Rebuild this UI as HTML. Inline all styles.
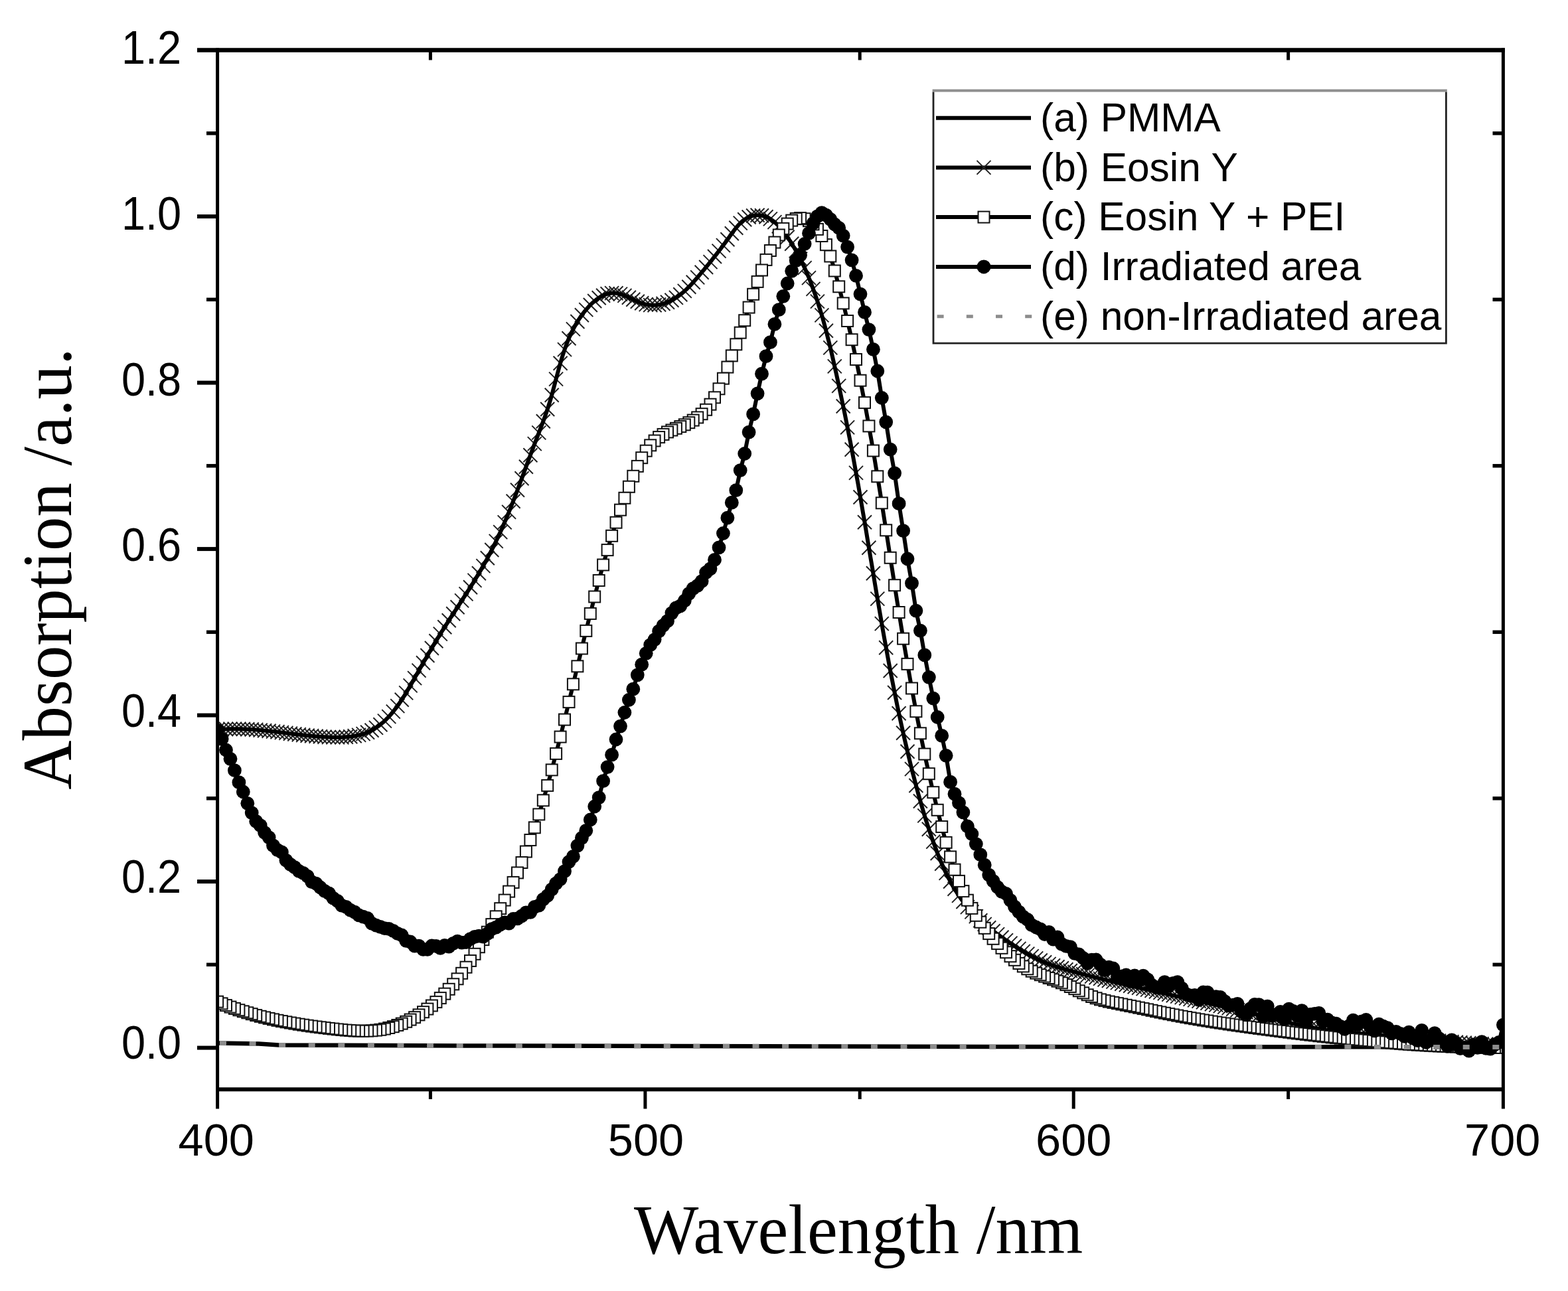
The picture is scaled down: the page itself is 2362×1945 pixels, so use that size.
<!DOCTYPE html>
<html><head><meta charset="utf-8"><title>Absorption spectra</title><style>html,body{margin:0;padding:0;background:#fff}svg{display:block}</style></head><body>
<svg width="2362" height="1945" viewBox="0 0 2362 1945">
<rect width="100%" height="100%" fill="#fff"/>
<defs><clipPath id="pc"><rect x="327.6" y="75.6" width="1936.8" height="1565.6"/></clipPath>
<path id="mx" d="M-10.5,-10.5L10.5,10.5M-10.5,10.5L10.5,-10.5" stroke="#222" stroke-width="2" fill="none"/>
<rect id="ms" x="-8.5" y="-8.5" width="17" height="17" fill="#fff" stroke="#111" stroke-width="2"/>
<circle id="mc" r="10.4" fill="#000"/>
</defs>
<g clip-path="url(#pc)" fill="none">
<polyline points="327.6,1571.5 390,1572.5 420,1574.5 700,1575.5 1500,1577 2264.4,1577.5" stroke="#000" stroke-width="6.5"/>
<g><use href="#mx" x="327.6" y="1099.3"/><use href="#mx" x="334.1" y="1098.8"/><use href="#mx" x="340.5" y="1098.5"/><use href="#mx" x="347" y="1098.2"/><use href="#mx" x="353.4" y="1098.2"/><use href="#mx" x="359.9" y="1098.2"/><use href="#mx" x="366.3" y="1098.4"/><use href="#mx" x="372.8" y="1098.7"/><use href="#mx" x="379.2" y="1099"/><use href="#mx" x="385.7" y="1099.5"/><use href="#mx" x="392.2" y="1100.1"/><use href="#mx" x="398.6" y="1100.7"/><use href="#mx" x="405.1" y="1101.3"/><use href="#mx" x="411.5" y="1102.1"/><use href="#mx" x="418" y="1102.8"/><use href="#mx" x="424.4" y="1103.6"/><use href="#mx" x="430.9" y="1104.4"/><use href="#mx" x="437.4" y="1105.2"/><use href="#mx" x="443.8" y="1106"/><use href="#mx" x="450.3" y="1106.7"/><use href="#mx" x="456.7" y="1107.5"/><use href="#mx" x="463.2" y="1108.2"/><use href="#mx" x="469.6" y="1108.8"/><use href="#mx" x="476.1" y="1109.3"/><use href="#mx" x="482.5" y="1109.8"/><use href="#mx" x="489" y="1110.2"/><use href="#mx" x="495.5" y="1110.6"/><use href="#mx" x="501.9" y="1110.8"/><use href="#mx" x="508.4" y="1110.8"/><use href="#mx" x="514.8" y="1110.7"/><use href="#mx" x="521.3" y="1110.3"/><use href="#mx" x="527.7" y="1109.7"/><use href="#mx" x="534.2" y="1108.7"/><use href="#mx" x="540.6" y="1107.4"/><use href="#mx" x="547.1" y="1105.6"/><use href="#mx" x="553.6" y="1103.3"/><use href="#mx" x="560" y="1100.2"/><use href="#mx" x="566.5" y="1096.4"/><use href="#mx" x="572.9" y="1091.7"/><use href="#mx" x="579.4" y="1086.1"/><use href="#mx" x="585.8" y="1079.6"/><use href="#mx" x="592.3" y="1072.1"/><use href="#mx" x="598.8" y="1063.6"/><use href="#mx" x="605.2" y="1054.2"/><use href="#mx" x="611.7" y="1043.9"/><use href="#mx" x="618.1" y="1032.9"/><use href="#mx" x="624.6" y="1021.6"/><use href="#mx" x="631" y="1010.1"/><use href="#mx" x="637.5" y="998.7"/><use href="#mx" x="643.9" y="987.5"/><use href="#mx" x="650.4" y="976.5"/><use href="#mx" x="656.9" y="965.7"/><use href="#mx" x="663.3" y="955.1"/><use href="#mx" x="669.8" y="944.8"/><use href="#mx" x="676.2" y="934.7"/><use href="#mx" x="682.7" y="924.7"/><use href="#mx" x="689.1" y="914.8"/><use href="#mx" x="695.6" y="904.9"/><use href="#mx" x="702" y="894.9"/><use href="#mx" x="708.5" y="884.8"/><use href="#mx" x="715" y="874.4"/><use href="#mx" x="721.4" y="863.7"/><use href="#mx" x="727.9" y="852.6"/><use href="#mx" x="734.3" y="840.8"/><use href="#mx" x="740.8" y="828.5"/><use href="#mx" x="747.2" y="815.4"/><use href="#mx" x="753.7" y="801.6"/><use href="#mx" x="760.2" y="786.9"/><use href="#mx" x="766.6" y="771.4"/><use href="#mx" x="773.1" y="755.2"/><use href="#mx" x="779.5" y="738.2"/><use href="#mx" x="786" y="720.8"/><use href="#mx" x="792.4" y="703.2"/><use href="#mx" x="798.9" y="685.7"/><use href="#mx" x="805.3" y="668.6"/><use href="#mx" x="811.8" y="651.9"/><use href="#mx" x="818.3" y="634.8"/><use href="#mx" x="824.7" y="616.5"/><use href="#mx" x="831.2" y="595.2"/><use href="#mx" x="837.6" y="571.1"/><use href="#mx" x="844.1" y="547.2"/><use href="#mx" x="850.5" y="526.6"/><use href="#mx" x="857" y="509.7"/><use href="#mx" x="863.4" y="495.9"/><use href="#mx" x="869.9" y="484.5"/><use href="#mx" x="876.4" y="474.8"/><use href="#mx" x="882.8" y="466.6"/><use href="#mx" x="889.3" y="459.5"/><use href="#mx" x="895.7" y="453.5"/><use href="#mx" x="902.2" y="448.8"/><use href="#mx" x="908.6" y="445.2"/><use href="#mx" x="915.1" y="442.8"/><use href="#mx" x="921.6" y="441.6"/><use href="#mx" x="928" y="441.7"/><use href="#mx" x="934.5" y="443.1"/><use href="#mx" x="940.9" y="445.4"/><use href="#mx" x="947.4" y="448.2"/><use href="#mx" x="953.8" y="451.2"/><use href="#mx" x="960.3" y="454.2"/><use href="#mx" x="966.7" y="456.7"/><use href="#mx" x="973.2" y="458.6"/><use href="#mx" x="979.7" y="459.6"/><use href="#mx" x="986.1" y="459.7"/><use href="#mx" x="992.6" y="459"/><use href="#mx" x="999" y="457.5"/><use href="#mx" x="1005.5" y="455.3"/><use href="#mx" x="1011.9" y="452.3"/><use href="#mx" x="1018.4" y="448.4"/><use href="#mx" x="1024.8" y="443.8"/><use href="#mx" x="1031.3" y="438.4"/><use href="#mx" x="1037.8" y="432.2"/><use href="#mx" x="1044.2" y="425.3"/><use href="#mx" x="1050.7" y="417.9"/><use href="#mx" x="1057.1" y="410.3"/><use href="#mx" x="1063.6" y="402.5"/><use href="#mx" x="1070" y="394.6"/><use href="#mx" x="1076.5" y="386.5"/><use href="#mx" x="1083" y="378.1"/><use href="#mx" x="1089.4" y="369.6"/><use href="#mx" x="1095.9" y="360.8"/><use href="#mx" x="1102.3" y="351.8"/><use href="#mx" x="1108.8" y="343.3"/><use href="#mx" x="1115.2" y="336.1"/><use href="#mx" x="1121.7" y="330.7"/><use href="#mx" x="1128.1" y="327"/><use href="#mx" x="1134.6" y="325"/><use href="#mx" x="1141.1" y="324.3"/><use href="#mx" x="1147.5" y="324.8"/><use href="#mx" x="1154" y="326.7"/><use href="#mx" x="1160.4" y="329.9"/><use href="#mx" x="1166.9" y="334.6"/><use href="#mx" x="1173.3" y="340.8"/><use href="#mx" x="1179.8" y="348.4"/><use href="#mx" x="1186.2" y="357.3"/><use href="#mx" x="1192.7" y="367.2"/><use href="#mx" x="1199.2" y="378"/><use href="#mx" x="1205.6" y="390.1"/><use href="#mx" x="1212.1" y="403.6"/><use href="#mx" x="1218.5" y="418.6"/><use href="#mx" x="1225" y="435.4"/><use href="#mx" x="1231.4" y="454.1"/><use href="#mx" x="1237.9" y="474.9"/><use href="#mx" x="1244.4" y="498.2"/><use href="#mx" x="1250.8" y="523.9"/><use href="#mx" x="1257.3" y="551.9"/><use href="#mx" x="1263.7" y="581.4"/><use href="#mx" x="1270.2" y="612"/><use href="#mx" x="1276.6" y="643.9"/><use href="#mx" x="1283.1" y="677.3"/><use href="#mx" x="1289.5" y="712.4"/><use href="#mx" x="1296" y="749"/><use href="#mx" x="1302.5" y="786.7"/><use href="#mx" x="1308.9" y="825.2"/><use href="#mx" x="1315.4" y="863.8"/><use href="#mx" x="1321.8" y="902.1"/><use href="#mx" x="1328.3" y="939.6"/><use href="#mx" x="1334.7" y="975.8"/><use href="#mx" x="1341.2" y="1010.5"/><use href="#mx" x="1347.6" y="1043.5"/><use href="#mx" x="1354.1" y="1074.8"/><use href="#mx" x="1360.6" y="1104.3"/><use href="#mx" x="1367" y="1132.2"/><use href="#mx" x="1373.5" y="1158.6"/><use href="#mx" x="1379.9" y="1183.5"/><use href="#mx" x="1386.4" y="1207"/><use href="#mx" x="1392.8" y="1228.9"/><use href="#mx" x="1399.3" y="1249.3"/><use href="#mx" x="1405.8" y="1268.1"/><use href="#mx" x="1412.2" y="1285.5"/><use href="#mx" x="1418.7" y="1301.2"/><use href="#mx" x="1425.1" y="1315.4"/><use href="#mx" x="1431.6" y="1328"/><use href="#mx" x="1438" y="1339.3"/><use href="#mx" x="1444.5" y="1349.4"/><use href="#mx" x="1450.9" y="1358.5"/><use href="#mx" x="1457.4" y="1366.6"/><use href="#mx" x="1463.9" y="1373.9"/><use href="#mx" x="1470.3" y="1380.6"/><use href="#mx" x="1476.8" y="1386.7"/><use href="#mx" x="1483.2" y="1392.4"/><use href="#mx" x="1489.7" y="1397.7"/><use href="#mx" x="1496.1" y="1402.8"/><use href="#mx" x="1502.6" y="1407.6"/><use href="#mx" x="1509" y="1412.2"/><use href="#mx" x="1515.5" y="1416.7"/><use href="#mx" x="1522" y="1421.1"/><use href="#mx" x="1528.4" y="1425.3"/><use href="#mx" x="1534.9" y="1429.4"/><use href="#mx" x="1541.3" y="1433.4"/><use href="#mx" x="1547.8" y="1437.1"/><use href="#mx" x="1554.2" y="1440.6"/><use href="#mx" x="1560.7" y="1443.9"/><use href="#mx" x="1567.2" y="1447"/><use href="#mx" x="1573.6" y="1449.8"/><use href="#mx" x="1580.1" y="1452.4"/><use href="#mx" x="1586.5" y="1454.7"/><use href="#mx" x="1593" y="1456.8"/><use href="#mx" x="1599.4" y="1458.8"/><use href="#mx" x="1605.9" y="1460.7"/><use href="#mx" x="1612.3" y="1462.5"/><use href="#mx" x="1618.8" y="1464.3"/><use href="#mx" x="1625.3" y="1466"/><use href="#mx" x="1631.7" y="1467.7"/><use href="#mx" x="1638.2" y="1469.4"/><use href="#mx" x="1644.6" y="1471.1"/><use href="#mx" x="1651.1" y="1472.7"/><use href="#mx" x="1657.5" y="1474.4"/><use href="#mx" x="1664" y="1476"/><use href="#mx" x="1670.4" y="1477.5"/><use href="#mx" x="1676.9" y="1479.1"/><use href="#mx" x="1683.4" y="1480.6"/><use href="#mx" x="1689.8" y="1482.2"/><use href="#mx" x="1696.3" y="1483.7"/><use href="#mx" x="1702.7" y="1485.2"/><use href="#mx" x="1709.2" y="1486.7"/><use href="#mx" x="1715.6" y="1488.2"/><use href="#mx" x="1722.1" y="1489.6"/><use href="#mx" x="1728.6" y="1491.1"/><use href="#mx" x="1735" y="1492.5"/><use href="#mx" x="1741.5" y="1494"/><use href="#mx" x="1747.9" y="1495.4"/><use href="#mx" x="1754.4" y="1496.8"/><use href="#mx" x="1760.8" y="1498.3"/><use href="#mx" x="1767.3" y="1499.7"/><use href="#mx" x="1773.7" y="1501.1"/><use href="#mx" x="1780.2" y="1502.6"/><use href="#mx" x="1786.7" y="1504"/><use href="#mx" x="1793.1" y="1505.4"/><use href="#mx" x="1799.6" y="1506.9"/><use href="#mx" x="1806" y="1508.3"/><use href="#mx" x="1812.5" y="1509.8"/><use href="#mx" x="1818.9" y="1511.2"/><use href="#mx" x="1825.4" y="1512.7"/><use href="#mx" x="1831.8" y="1514.1"/><use href="#mx" x="1838.3" y="1515.6"/><use href="#mx" x="1844.8" y="1517.1"/><use href="#mx" x="1851.2" y="1518.6"/><use href="#mx" x="1857.7" y="1520.2"/><use href="#mx" x="1864.1" y="1521.7"/><use href="#mx" x="1870.6" y="1523.3"/><use href="#mx" x="1877" y="1524.9"/><use href="#mx" x="1883.5" y="1526.5"/><use href="#mx" x="1890" y="1528.1"/><use href="#mx" x="1896.4" y="1529.7"/><use href="#mx" x="1902.9" y="1531.3"/><use href="#mx" x="1909.3" y="1532.9"/><use href="#mx" x="1915.8" y="1534.6"/><use href="#mx" x="1922.2" y="1536.2"/><use href="#mx" x="1928.7" y="1537.7"/><use href="#mx" x="1935.1" y="1539.3"/><use href="#mx" x="1941.6" y="1540.8"/><use href="#mx" x="1948.1" y="1542.3"/><use href="#mx" x="1954.5" y="1543.7"/><use href="#mx" x="1961" y="1545.1"/><use href="#mx" x="1967.4" y="1546.4"/><use href="#mx" x="1973.9" y="1547.6"/><use href="#mx" x="1980.3" y="1548.8"/><use href="#mx" x="1986.8" y="1549.9"/><use href="#mx" x="1993.2" y="1551"/><use href="#mx" x="1999.7" y="1551.9"/><use href="#mx" x="2006.2" y="1552.8"/><use href="#mx" x="2012.6" y="1553.5"/><use href="#mx" x="2019.1" y="1554.2"/><use href="#mx" x="2025.5" y="1554.9"/><use href="#mx" x="2032" y="1555.5"/><use href="#mx" x="2038.4" y="1556.1"/><use href="#mx" x="2044.9" y="1556.7"/><use href="#mx" x="2051.4" y="1557.2"/><use href="#mx" x="2057.8" y="1557.8"/><use href="#mx" x="2064.3" y="1558.3"/><use href="#mx" x="2070.7" y="1558.9"/><use href="#mx" x="2077.2" y="1559.5"/><use href="#mx" x="2083.6" y="1560.1"/><use href="#mx" x="2090.1" y="1560.7"/><use href="#mx" x="2096.5" y="1561.3"/><use href="#mx" x="2103" y="1562"/><use href="#mx" x="2109.5" y="1562.6"/><use href="#mx" x="2115.9" y="1563.2"/><use href="#mx" x="2122.4" y="1563.9"/><use href="#mx" x="2128.8" y="1564.5"/><use href="#mx" x="2135.3" y="1565.1"/><use href="#mx" x="2141.7" y="1565.8"/><use href="#mx" x="2148.2" y="1566.4"/><use href="#mx" x="2154.6" y="1567"/><use href="#mx" x="2161.1" y="1567.6"/><use href="#mx" x="2167.6" y="1568.1"/><use href="#mx" x="2174" y="1568.7"/><use href="#mx" x="2180.5" y="1569.3"/><use href="#mx" x="2186.9" y="1569.8"/><use href="#mx" x="2193.4" y="1570.3"/><use href="#mx" x="2199.8" y="1570.8"/><use href="#mx" x="2206.3" y="1571.2"/><use href="#mx" x="2212.8" y="1571.7"/><use href="#mx" x="2219.2" y="1572.1"/><use href="#mx" x="2225.7" y="1572.5"/><use href="#mx" x="2232.1" y="1572.8"/><use href="#mx" x="2238.6" y="1573.1"/><use href="#mx" x="2245" y="1573.4"/><use href="#mx" x="2251.5" y="1573.6"/><use href="#mx" x="2257.9" y="1573.8"/><use href="#mx" x="2264.4" y="1574"/></g>
<polyline points="327.6,1099.3 329.2,1099.2 330.8,1099 332.4,1098.9 334.1,1098.8 335.7,1098.7 337.3,1098.6 338.9,1098.5 340.5,1098.5 342.1,1098.4 343.8,1098.3 345.4,1098.3 347,1098.2 348.6,1098.2 350.2,1098.2 351.8,1098.2 353.4,1098.2 355.1,1098.2 356.7,1098.2 358.3,1098.2 359.9,1098.2 361.5,1098.2 363.1,1098.3 364.8,1098.3 366.4,1098.4 368,1098.4 369.6,1098.5 371.2,1098.6 372.8,1098.7 374.4,1098.7 376.1,1098.8 377.7,1098.9 379.3,1099 380.9,1099.1 382.5,1099.3 384.1,1099.4 385.8,1099.5 387.4,1099.6 389,1099.8 390.6,1099.9 392.2,1100.1 393.8,1100.2 395.4,1100.4 397.1,1100.5 398.7,1100.7 400.3,1100.8 401.9,1101 403.5,1101.2 405.1,1101.4 406.8,1101.5 408.4,1101.7 410,1101.9 411.6,1102.1 413.2,1102.3 414.8,1102.5 416.4,1102.6 418.1,1102.8 419.7,1103 421.3,1103.2 422.9,1103.4 424.5,1103.6 426.1,1103.8 427.8,1104 429.4,1104.2 431,1104.4 432.6,1104.6 434.2,1104.8 435.8,1105 437.4,1105.2 439.1,1105.4 440.7,1105.6 442.3,1105.8 443.9,1106 445.5,1106.2 447.1,1106.4 448.8,1106.6 450.4,1106.8 452,1106.9 453.6,1107.1 455.2,1107.3 456.8,1107.5 458.4,1107.7 460.1,1107.8 461.7,1108 463.3,1108.2 464.9,1108.3 466.5,1108.5 468.1,1108.6 469.8,1108.8 471.4,1108.9 473,1109.1 474.6,1109.2 476.2,1109.4 477.8,1109.5 479.4,1109.6 481.1,1109.7 482.7,1109.8 484.3,1110 485.9,1110.1 487.5,1110.2 489.1,1110.3 490.7,1110.3 492.4,1110.4 494,1110.5 495.6,1110.6 497.2,1110.6 498.8,1110.7 500.4,1110.7 502.1,1110.8 503.7,1110.8 505.3,1110.8 506.9,1110.8 508.5,1110.8 510.1,1110.8 511.7,1110.8 513.4,1110.7 515,1110.7 516.6,1110.6 518.2,1110.5 519.8,1110.4 521.4,1110.3 523.1,1110.2 524.7,1110 526.3,1109.8 527.9,1109.7 529.5,1109.5 531.1,1109.2 532.7,1109 534.4,1108.7 536,1108.4 537.6,1108.1 539.2,1107.7 540.8,1107.4 542.4,1107 544.1,1106.5 545.7,1106.1 547.3,1105.6 548.9,1105 550.5,1104.5 552.1,1103.8 553.7,1103.2 555.4,1102.5 557,1101.7 558.6,1100.9 560.2,1100.1 561.8,1099.2 563.4,1098.3 565.1,1097.3 566.7,1096.2 568.3,1095.1 569.9,1094 571.5,1092.8 573.1,1091.5 574.7,1090.2 576.4,1088.8 578,1087.4 579.6,1085.9 581.2,1084.3 582.8,1082.7 584.4,1081.1 586.1,1079.3 587.7,1077.5 589.3,1075.7 590.9,1073.8 592.5,1071.8 594.1,1069.7 595.7,1067.6 597.4,1065.5 599,1063.3 600.6,1061 602.2,1058.7 603.8,1056.3 605.4,1053.8 607.1,1051.3 608.7,1048.7 610.3,1046.1 611.9,1043.5 613.5,1040.8 615.1,1038.1 616.7,1035.3 618.4,1032.5 620,1029.7 621.6,1026.8 623.2,1024 624.8,1021.1 626.4,1018.2 628.1,1015.4 629.7,1012.5 631.3,1009.7 632.9,1006.8 634.5,1004 636.1,1001.1 637.7,998.3 639.4,995.5 641,992.7 642.6,989.9 644.2,987.1 645.8,984.3 647.4,981.5 649.1,978.8 650.7,976 652.3,973.3 653.9,970.6 655.5,967.9 657.1,965.2 658.7,962.6 660.4,959.9 662,957.3 663.6,954.7 665.2,952 666.8,949.5 668.4,946.9 670.1,944.3 671.7,941.8 673.3,939.3 674.9,936.7 676.5,934.2 678.1,931.7 679.7,929.2 681.4,926.7 683,924.2 684.6,921.8 686.2,919.3 687.8,916.8 689.4,914.3 691.1,911.9 692.7,909.4 694.3,906.9 695.9,904.4 697.5,901.9 699.1,899.4 700.7,896.9 702.4,894.4 704,891.9 705.6,889.4 707.2,886.8 708.8,884.2 710.4,881.7 712.1,879.1 713.7,876.5 715.3,873.9 716.9,871.2 718.5,868.5 720.1,865.9 721.7,863.1 723.4,860.4 725,857.6 726.6,854.8 728.2,852 729.8,849.1 731.4,846.2 733.1,843.2 734.7,840.2 736.3,837.2 737.9,834.1 739.5,831 741.1,827.8 742.7,824.6 744.4,821.3 746,818 747.6,814.7 749.2,811.3 750.8,807.8 752.4,804.3 754.1,800.8 755.7,797.2 757.3,793.5 758.9,789.8 760.5,786.1 762.1,782.3 763.7,778.4 765.4,774.5 767,770.5 768.6,766.5 770.2,762.5 771.8,758.4 773.4,754.2 775.1,750 776.7,745.8 778.3,741.5 779.9,737.2 781.5,732.9 783.1,728.5 784.7,724.2 786.4,719.8 788,715.4 789.6,711 791.2,706.6 792.8,702.2 794.4,697.8 796.1,693.4 797.7,689 799.3,684.7 800.9,680.3 802.5,676.1 804.1,671.8 805.7,667.6 807.4,663.4 809,659.2 810.6,655 812.2,650.8 813.8,646.6 815.4,642.4 817,638.1 818.7,633.7 820.3,629.3 821.9,624.7 823.5,620 825.1,615.2 826.7,610.2 828.4,604.9 830,599.4 831.6,593.7 833.2,587.8 834.8,581.8 836.4,575.6 838,569.5 839.7,563.3 841.3,557.3 842.9,551.4 844.5,545.8 846.1,540.3 847.7,535.1 849.4,530.1 851,525.4 852.6,520.9 854.2,516.6 855.8,512.5 857.4,508.7 859,505 860.7,501.6 862.3,498.2 863.9,495.1 865.5,492.1 867.1,489.2 868.7,486.4 870.4,483.8 872,481.2 873.6,478.8 875.2,476.5 876.8,474.2 878.4,472.1 880,470 881.7,468 883.3,466 884.9,464.2 886.5,462.4 888.1,460.6 889.7,459 891.4,457.4 893,455.9 894.6,454.5 896.2,453.1 897.8,451.9 899.4,450.6 901,449.5 902.7,448.4 904.3,447.5 905.9,446.5 907.5,445.7 909.1,444.9 910.7,444.2 912.4,443.6 914,443.1 915.6,442.6 917.2,442.2 918.8,441.9 920.4,441.7 922,441.6 923.7,441.5 925.3,441.5 926.9,441.6 928.5,441.8 930.1,442.1 931.7,442.4 933.4,442.8 935,443.3 936.6,443.8 938.2,444.3 939.8,445 941.4,445.6 943,446.3 944.7,447 946.3,447.7 947.9,448.5 949.5,449.2 951.1,450 952.7,450.7 954.4,451.5 956,452.2 957.6,453 959.2,453.7 960.8,454.4 962.4,455.1 964,455.7 965.7,456.4 967.3,456.9 968.9,457.5 970.5,457.9 972.1,458.4 973.7,458.7 975.4,459 977,459.3 978.6,459.5 980.2,459.6 981.8,459.7 983.4,459.8 985,459.8 986.7,459.7 988.3,459.6 989.9,459.4 991.5,459.2 993.1,458.9 994.7,458.6 996.4,458.3 998,457.8 999.6,457.4 1001.2,456.9 1002.8,456.3 1004.4,455.7 1006,455 1007.7,454.3 1009.3,453.6 1010.9,452.8 1012.5,451.9 1014.1,451.1 1015.7,450.1 1017.4,449.1 1019,448.1 1020.6,447 1022.2,445.8 1023.8,444.6 1025.4,443.4 1027,442.1 1028.7,440.7 1030.3,439.3 1031.9,437.9 1033.5,436.4 1035.1,434.8 1036.7,433.2 1038.4,431.6 1040,429.9 1041.6,428.2 1043.2,426.4 1044.8,424.7 1046.4,422.8 1048,421 1049.7,419.1 1051.3,417.2 1052.9,415.3 1054.5,413.4 1056.1,411.5 1057.7,409.5 1059.4,407.6 1061,405.7 1062.6,403.7 1064.2,401.7 1065.8,399.8 1067.4,397.8 1069,395.8 1070.7,393.8 1072.3,391.8 1073.9,389.7 1075.5,387.7 1077.1,385.7 1078.7,383.6 1080.4,381.5 1082,379.4 1083.6,377.3 1085.2,375.2 1086.8,373.1 1088.4,370.9 1090,368.7 1091.7,366.6 1093.3,364.4 1094.9,362.2 1096.5,359.9 1098.1,357.7 1099.7,355.4 1101.4,353.2 1103,350.9 1104.6,348.7 1106.2,346.6 1107.8,344.5 1109.4,342.5 1111,340.6 1112.7,338.8 1114.3,337.1 1115.9,335.5 1117.5,334 1119.1,332.6 1120.7,331.4 1122.4,330.2 1124,329.2 1125.6,328.3 1127.2,327.5 1128.8,326.8 1130.4,326.1 1132,325.6 1133.7,325.2 1135.3,324.9 1136.9,324.6 1138.5,324.4 1140.1,324.3 1141.7,324.3 1143.3,324.4 1145,324.5 1146.6,324.7 1148.2,325 1149.8,325.4 1151.4,325.8 1153,326.3 1154.7,327 1156.3,327.7 1157.9,328.5 1159.5,329.4 1161.1,330.4 1162.7,331.5 1164.3,332.6 1166,333.9 1167.6,335.2 1169.2,336.7 1170.8,338.2 1172.4,339.9 1174,341.6 1175.7,343.4 1177.3,345.3 1178.9,347.3 1180.5,349.4 1182.1,351.5 1183.7,353.7 1185.3,356 1187,358.4 1188.6,360.8 1190.2,363.2 1191.8,365.7 1193.4,368.3 1195,371 1196.7,373.7 1198.3,376.5 1199.9,379.3 1201.5,382.3 1203.1,385.3 1204.7,388.4 1206.3,391.5 1208,394.8 1209.6,398.2 1211.2,401.6 1212.8,405.2 1214.4,408.9 1216,412.6 1217.7,416.5 1219.3,420.5 1220.9,424.6 1222.5,428.8 1224.1,433.1 1225.7,437.5 1227.3,442 1229,446.7 1230.6,451.5 1232.2,456.4 1233.8,461.5 1235.4,466.7 1237,472 1238.7,477.5 1240.3,483.2 1241.9,489 1243.5,495 1245.1,501.1 1246.7,507.4 1248.3,513.8 1250,520.4 1251.6,527.1 1253.2,534 1254.8,541 1256.4,548.2 1258,555.4 1259.7,562.7 1261.3,570.1 1262.9,577.5 1264.5,585.1 1266.1,592.6 1267.7,600.3 1269.3,608 1271,615.8 1272.6,623.7 1274.2,631.7 1275.8,639.8 1277.4,647.9 1279,656.2 1280.7,664.5 1282.3,673 1283.9,681.6 1285.5,690.3 1287.1,699 1288.7,707.9 1290.3,716.9 1292,725.9 1293.6,735.1 1295.2,744.3 1296.8,753.6 1298.4,763 1300,772.5 1301.7,782 1303.3,791.5 1304.9,801.1 1306.5,810.7 1308.1,820.4 1309.7,830.1 1311.3,839.7 1313,849.4 1314.6,859.1 1316.2,868.7 1317.8,878.4 1319.4,888 1321,897.5 1322.7,907 1324.3,916.4 1325.9,925.8 1327.5,935.1 1329.1,944.4 1330.7,953.5 1332.3,962.6 1334,971.5 1335.6,980.4 1337.2,989.2 1338.8,997.9 1340.4,1006.4 1342,1014.9 1343.7,1023.3 1345.3,1031.5 1346.9,1039.7 1348.5,1047.7 1350.1,1055.6 1351.7,1063.5 1353.3,1071.2 1355,1078.8 1356.6,1086.3 1358.2,1093.7 1359.8,1100.9 1361.4,1108.1 1363,1115.2 1364.7,1122.2 1366.3,1129.1 1367.9,1135.9 1369.5,1142.5 1371.1,1149.1 1372.7,1155.6 1374.3,1162.1 1376,1168.4 1377.6,1174.6 1379.2,1180.8 1380.8,1186.8 1382.4,1192.8 1384,1198.7 1385.7,1204.4 1387.3,1210.1 1388.9,1215.7 1390.5,1221.2 1392.1,1226.6 1393.7,1231.8 1395.3,1237 1397,1242.1 1398.6,1247.1 1400.2,1252 1401.8,1256.8 1403.4,1261.5 1405,1266.1 1406.7,1270.6 1408.3,1275 1409.9,1279.4 1411.5,1283.6 1413.1,1287.8 1414.7,1291.8 1416.3,1295.7 1418,1299.6 1419.6,1303.3 1421.2,1306.9 1422.8,1310.5 1424.4,1313.9 1426,1317.2 1427.7,1320.5 1429.3,1323.7 1430.9,1326.7 1432.5,1329.7 1434.1,1332.6 1435.7,1335.4 1437.3,1338.2 1439,1340.8 1440.6,1343.4 1442.2,1345.9 1443.8,1348.4 1445.4,1350.8 1447,1353.1 1448.7,1355.4 1450.3,1357.6 1451.9,1359.7 1453.5,1361.8 1455.1,1363.8 1456.7,1365.8 1458.3,1367.7 1460,1369.6 1461.6,1371.4 1463.2,1373.2 1464.8,1374.9 1466.4,1376.6 1468,1378.3 1469.6,1379.9 1471.3,1381.5 1472.9,1383 1474.5,1384.6 1476.1,1386.1 1477.7,1387.5 1479.3,1389 1481,1390.4 1482.6,1391.8 1484.2,1393.2 1485.8,1394.5 1487.4,1395.9 1489,1397.2 1490.6,1398.5 1492.3,1399.8 1493.9,1401 1495.5,1402.3 1497.1,1403.5 1498.7,1404.7 1500.3,1405.9 1502,1407.1 1503.6,1408.3 1505.2,1409.5 1506.8,1410.7 1508.4,1411.8 1510,1412.9 1511.6,1414.1 1513.3,1415.2 1514.9,1416.3 1516.5,1417.4 1518.1,1418.5 1519.7,1419.6 1521.3,1420.7 1523,1421.8 1524.6,1422.8 1526.2,1423.9 1527.8,1424.9 1529.4,1426 1531,1427 1532.6,1428 1534.3,1429 1535.9,1430.1 1537.5,1431 1539.1,1432 1540.7,1433 1542.3,1434 1544,1434.9 1545.6,1435.8 1547.2,1436.8 1548.8,1437.7 1550.4,1438.6 1552,1439.4 1553.6,1440.3 1555.3,1441.2 1556.9,1442 1558.5,1442.8 1560.1,1443.6 1561.7,1444.4 1563.3,1445.2 1565,1446 1566.6,1446.7 1568.2,1447.5 1569.8,1448.2 1571.4,1448.9 1573,1449.6 1574.6,1450.2 1576.3,1450.9 1577.9,1451.5 1579.5,1452.2 1581.1,1452.8 1582.7,1453.4 1584.3,1453.9 1586,1454.5 1587.6,1455.1 1589.2,1455.6 1590.8,1456.1 1592.4,1456.6 1594,1457.2 1595.6,1457.7 1597.3,1458.2 1598.9,1458.6 1600.5,1459.1 1602.1,1459.6 1603.7,1460.1 1605.3,1460.5 1607,1461 1608.6,1461.4 1610.2,1461.9 1611.8,1462.3 1613.4,1462.8 1615,1463.2 1616.6,1463.7 1618.3,1464.1 1619.9,1464.6 1621.5,1465 1623.1,1465.4 1624.7,1465.9 1626.3,1466.3 1628,1466.7 1629.6,1467.2 1631.2,1467.6 1632.8,1468 1634.4,1468.4 1636,1468.9 1637.6,1469.3 1639.3,1469.7 1640.9,1470.1 1642.5,1470.5 1644.1,1471 1645.7,1471.4 1647.3,1471.8 1649,1472.2 1650.6,1472.6 1652.2,1473 1653.8,1473.4 1655.4,1473.8 1657,1474.2 1658.6,1474.6 1660.3,1475 1661.9,1475.4 1663.5,1475.8 1665.1,1476.2 1666.7,1476.6 1668.3,1477 1670,1477.4 1671.6,1477.8 1673.2,1478.2 1674.8,1478.6 1676.4,1479 1678,1479.4 1679.6,1479.8 1681.3,1480.1 1682.9,1480.5 1684.5,1480.9 1686.1,1481.3 1687.7,1481.7 1689.3,1482.1 1691,1482.4 1692.6,1482.8 1694.2,1483.2 1695.8,1483.6 1697.4,1484 1699,1484.3 1700.6,1484.7 1702.3,1485.1 1703.9,1485.5 1705.5,1485.8 1707.1,1486.2 1708.7,1486.6 1710.3,1486.9 1712,1487.3 1713.6,1487.7 1715.2,1488.1 1716.8,1488.4 1718.4,1488.8 1720,1489.2 1721.6,1489.5 1723.3,1489.9 1724.9,1490.3 1726.5,1490.6 1728.1,1491 1729.7,1491.3 1731.3,1491.7 1733,1492.1 1734.6,1492.4 1736.2,1492.8 1737.8,1493.2 1739.4,1493.5 1741,1493.9 1742.6,1494.2 1744.3,1494.6 1745.9,1495 1747.5,1495.3 1749.1,1495.7 1750.7,1496 1752.3,1496.4 1754,1496.7 1755.6,1497.1 1757.2,1497.5 1758.8,1497.8 1760.4,1498.2 1762,1498.5 1763.6,1498.9 1765.3,1499.3 1766.9,1499.6 1768.5,1500 1770.1,1500.3 1771.7,1500.7 1773.3,1501 1775,1501.4 1776.6,1501.8 1778.2,1502.1 1779.8,1502.5 1781.4,1502.8 1783,1503.2 1784.6,1503.5 1786.3,1503.9 1787.9,1504.3 1789.5,1504.6 1791.1,1505 1792.7,1505.3 1794.3,1505.7 1795.9,1506.1 1797.6,1506.4 1799.2,1506.8 1800.8,1507.1 1802.4,1507.5 1804,1507.9 1805.6,1508.2 1807.3,1508.6 1808.9,1508.9 1810.5,1509.3 1812.1,1509.7 1813.7,1510 1815.3,1510.4 1816.9,1510.8 1818.6,1511.1 1820.2,1511.5 1821.8,1511.9 1823.4,1512.2 1825,1512.6 1826.6,1513 1828.3,1513.3 1829.9,1513.7 1831.5,1514.1 1833.1,1514.4 1834.7,1514.8 1836.3,1515.2 1837.9,1515.6 1839.6,1515.9 1841.2,1516.3 1842.8,1516.7 1844.4,1517.1 1846,1517.4 1847.6,1517.8 1849.3,1518.2 1850.9,1518.6 1852.5,1518.9 1854.1,1519.3 1855.7,1519.7 1857.3,1520.1 1858.9,1520.5 1860.6,1520.9 1862.2,1521.3 1863.8,1521.6 1865.4,1522 1867,1522.4 1868.6,1522.8 1870.3,1523.2 1871.9,1523.6 1873.5,1524 1875.1,1524.4 1876.7,1524.8 1878.3,1525.2 1879.9,1525.6 1881.6,1526 1883.2,1526.4 1884.8,1526.8 1886.4,1527.2 1888,1527.6 1889.6,1528 1891.3,1528.4 1892.9,1528.8 1894.5,1529.2 1896.1,1529.6 1897.7,1530 1899.3,1530.4 1900.9,1530.8 1902.6,1531.2 1904.2,1531.7 1905.8,1532.1 1907.4,1532.5 1909,1532.9 1910.6,1533.3 1912.3,1533.7 1913.9,1534.1 1915.5,1534.5 1917.1,1534.9 1918.7,1535.3 1920.3,1535.7 1921.9,1536.1 1923.6,1536.5 1925.2,1536.9 1926.8,1537.3 1928.4,1537.7 1930,1538.1 1931.6,1538.4 1933.3,1538.8 1934.9,1539.2 1936.5,1539.6 1938.1,1540 1939.7,1540.4 1941.3,1540.7 1942.9,1541.1 1944.6,1541.5 1946.2,1541.8 1947.8,1542.2 1949.4,1542.6 1951,1542.9 1952.6,1543.3 1954.3,1543.6 1955.9,1544 1957.5,1544.3 1959.1,1544.7 1960.7,1545 1962.3,1545.3 1963.9,1545.7 1965.6,1546 1967.2,1546.3 1968.8,1546.6 1970.4,1547 1972,1547.3 1973.6,1547.6 1975.3,1547.9 1976.9,1548.2 1978.5,1548.5 1980.1,1548.8 1981.7,1549.1 1983.3,1549.3 1984.9,1549.6 1986.6,1549.9 1988.2,1550.2 1989.8,1550.4 1991.4,1550.7 1993,1550.9 1994.6,1551.2 1996.3,1551.4 1997.9,1551.6 1999.5,1551.9 2001.1,1552.1 2002.7,1552.3 2004.3,1552.5 2005.9,1552.7 2007.6,1552.9 2009.2,1553.1 2010.8,1553.3 2012.4,1553.5 2014,1553.7 2015.6,1553.9 2017.3,1554.1 2018.9,1554.2 2020.5,1554.4 2022.1,1554.6 2023.7,1554.7 2025.3,1554.9 2026.9,1555 2028.6,1555.2 2030.2,1555.4 2031.8,1555.5 2033.4,1555.6 2035,1555.8 2036.6,1555.9 2038.3,1556.1 2039.9,1556.2 2041.5,1556.4 2043.1,1556.5 2044.7,1556.6 2046.3,1556.8 2047.9,1556.9 2049.6,1557.1 2051.2,1557.2 2052.8,1557.3 2054.4,1557.5 2056,1557.6 2057.6,1557.8 2059.3,1557.9 2060.9,1558 2062.5,1558.2 2064.1,1558.3 2065.7,1558.5 2067.3,1558.6 2068.9,1558.7 2070.6,1558.9 2072.2,1559 2073.8,1559.2 2075.4,1559.3 2077,1559.5 2078.6,1559.6 2080.3,1559.8 2081.9,1559.9 2083.5,1560.1 2085.1,1560.2 2086.7,1560.4 2088.3,1560.6 2089.9,1560.7 2091.6,1560.9 2093.2,1561 2094.8,1561.2 2096.4,1561.3 2098,1561.5 2099.6,1561.6 2101.3,1561.8 2102.9,1562 2104.5,1562.1 2106.1,1562.3 2107.7,1562.4 2109.3,1562.6 2110.9,1562.7 2112.6,1562.9 2114.2,1563.1 2115.8,1563.2 2117.4,1563.4 2119,1563.5 2120.6,1563.7 2122.2,1563.9 2123.9,1564 2125.5,1564.2 2127.1,1564.3 2128.7,1564.5 2130.3,1564.6 2131.9,1564.8 2133.6,1565 2135.2,1565.1 2136.8,1565.3 2138.4,1565.4 2140,1565.6 2141.6,1565.7 2143.2,1565.9 2144.9,1566.1 2146.5,1566.2 2148.1,1566.4 2149.7,1566.5 2151.3,1566.7 2152.9,1566.8 2154.6,1567 2156.2,1567.1 2157.8,1567.3 2159.4,1567.4 2161,1567.6 2162.6,1567.7 2164.2,1567.9 2165.9,1568 2167.5,1568.1 2169.1,1568.3 2170.7,1568.4 2172.3,1568.6 2173.9,1568.7 2175.6,1568.8 2177.2,1569 2178.8,1569.1 2180.4,1569.3 2182,1569.4 2183.6,1569.5 2185.2,1569.7 2186.9,1569.8 2188.5,1569.9 2190.1,1570 2191.7,1570.2 2193.3,1570.3 2194.9,1570.4 2196.6,1570.5 2198.2,1570.7 2199.8,1570.8 2201.4,1570.9 2203,1571 2204.6,1571.1 2206.2,1571.2 2207.9,1571.4 2209.5,1571.5 2211.1,1571.6 2212.7,1571.7 2214.3,1571.8 2215.9,1571.9 2217.6,1572 2219.2,1572.1 2220.8,1572.2 2222.4,1572.3 2224,1572.4 2225.6,1572.5 2227.2,1572.5 2228.9,1572.6 2230.5,1572.7 2232.1,1572.8 2233.7,1572.9 2235.3,1573 2236.9,1573 2238.6,1573.1 2240.2,1573.2 2241.8,1573.3 2243.4,1573.3 2245,1573.4 2246.6,1573.4 2248.2,1573.5 2249.9,1573.6 2251.5,1573.6 2253.1,1573.7 2254.7,1573.7 2256.3,1573.8 2257.9,1573.8 2259.6,1573.9 2261.2,1573.9 2262.8,1573.9 2264.4,1574" stroke="#000" stroke-width="6" stroke-linejoin="round"/>
<polyline points="327.6,1509.2 329.2,1509.9 330.8,1510.6 332.4,1511.3 334.1,1511.9 335.7,1512.6 337.3,1513.3 338.9,1513.9 340.5,1514.6 342.1,1515.2 343.8,1515.8 345.4,1516.5 347,1517.1 348.6,1517.7 350.2,1518.3 351.8,1518.9 353.4,1519.4 355.1,1520 356.7,1520.6 358.3,1521.1 359.9,1521.7 361.5,1522.2 363.1,1522.8 364.8,1523.3 366.4,1523.8 368,1524.3 369.6,1524.8 371.2,1525.3 372.8,1525.8 374.4,1526.3 376.1,1526.8 377.7,1527.3 379.3,1527.8 380.9,1528.2 382.5,1528.7 384.1,1529.1 385.8,1529.6 387.4,1530 389,1530.4 390.6,1530.9 392.2,1531.3 393.8,1531.7 395.4,1532.1 397.1,1532.5 398.7,1532.9 400.3,1533.3 401.9,1533.7 403.5,1534.1 405.1,1534.5 406.8,1534.8 408.4,1535.2 410,1535.6 411.6,1535.9 413.2,1536.3 414.8,1536.6 416.4,1537 418.1,1537.3 419.7,1537.6 421.3,1538 422.9,1538.3 424.5,1538.6 426.1,1538.9 427.8,1539.2 429.4,1539.5 431,1539.9 432.6,1540.2 434.2,1540.4 435.8,1540.7 437.4,1541 439.1,1541.3 440.7,1541.6 442.3,1541.9 443.9,1542.1 445.5,1542.4 447.1,1542.7 448.8,1542.9 450.4,1543.2 452,1543.5 453.6,1543.7 455.2,1544 456.8,1544.2 458.4,1544.5 460.1,1544.7 461.7,1544.9 463.3,1545.2 464.9,1545.4 466.5,1545.6 468.1,1545.9 469.8,1546.1 471.4,1546.3 473,1546.5 474.6,1546.8 476.2,1547 477.8,1547.2 479.4,1547.4 481.1,1547.6 482.7,1547.8 484.3,1548 485.9,1548.2 487.5,1548.4 489.1,1548.6 490.7,1548.8 492.4,1549 494,1549.2 495.6,1549.4 497.2,1549.6 498.8,1549.8 500.4,1550 502.1,1550.2 503.7,1550.3 505.3,1550.5 506.9,1550.7 508.5,1550.9 510.1,1551 511.7,1551.2 513.4,1551.4 515,1551.5 516.6,1551.7 518.2,1551.8 519.8,1552 521.4,1552.1 523.1,1552.3 524.7,1552.4 526.3,1552.5 527.9,1552.6 529.5,1552.7 531.1,1552.8 532.7,1552.9 534.4,1553 536,1553.1 537.6,1553.1 539.2,1553.2 540.8,1553.2 542.4,1553.2 544.1,1553.3 545.7,1553.3 547.3,1553.3 548.9,1553.2 550.5,1553.2 552.1,1553.2 553.7,1553.1 555.4,1553 557,1553 558.6,1552.9 560.2,1552.7 561.8,1552.6 563.4,1552.5 565.1,1552.3 566.7,1552.1 568.3,1551.9 569.9,1551.7 571.5,1551.5 573.1,1551.2 574.7,1550.9 576.4,1550.7 578,1550.3 579.6,1550 581.2,1549.7 582.8,1549.3 584.4,1548.9 586.1,1548.5 587.7,1548 589.3,1547.6 590.9,1547.1 592.5,1546.6 594.1,1546.1 595.7,1545.6 597.4,1545 599,1544.5 600.6,1543.9 602.2,1543.3 603.8,1542.6 605.4,1542 607.1,1541.3 608.7,1540.6 610.3,1539.9 611.9,1539.2 613.5,1538.4 615.1,1537.6 616.7,1536.8 618.4,1536 620,1535.2 621.6,1534.3 623.2,1533.4 624.8,1532.5 626.4,1531.6 628.1,1530.7 629.7,1529.7 631.3,1528.7 632.9,1527.7 634.5,1526.6 636.1,1525.6 637.7,1524.5 639.4,1523.4 641,1522.2 642.6,1521.1 644.2,1519.9 645.8,1518.6 647.4,1517.4 649.1,1516.1 650.7,1514.8 652.3,1513.5 653.9,1512.1 655.5,1510.7 657.1,1509.3 658.7,1507.9 660.4,1506.4 662,1504.9 663.6,1503.4 665.2,1501.8 666.8,1500.2 668.4,1498.6 670.1,1496.9 671.7,1495.2 673.3,1493.5 674.9,1491.7 676.5,1490 678.1,1488.1 679.7,1486.3 681.4,1484.4 683,1482.5 684.6,1480.5 686.2,1478.5 687.8,1476.5 689.4,1474.4 691.1,1472.3 692.7,1470.2 694.3,1468 695.9,1465.8 697.5,1463.6 699.1,1461.3 700.7,1459 702.4,1456.7 704,1454.3 705.6,1451.9 707.2,1449.5 708.8,1447 710.4,1444.5 712.1,1442 713.7,1439.4 715.3,1436.8 716.9,1434.2 718.5,1431.5 720.1,1428.8 721.7,1426.1 723.4,1423.4 725,1420.6 726.6,1417.9 728.2,1415.1 729.8,1412.2 731.4,1409.4 733.1,1406.5 734.7,1403.6 736.3,1400.8 737.9,1397.8 739.5,1394.9 741.1,1392 742.7,1389.1 744.4,1386.1 746,1383.1 747.6,1380.1 749.2,1377.1 750.8,1374.1 752.4,1371.1 754.1,1368 755.7,1364.9 757.3,1361.8 758.9,1358.6 760.5,1355.4 762.1,1352.2 763.7,1349 765.4,1345.7 767,1342.3 768.6,1339 770.2,1335.6 771.8,1332.1 773.4,1328.6 775.1,1325 776.7,1321.4 778.3,1317.7 779.9,1314 781.5,1310.2 783.1,1306.4 784.7,1302.5 786.4,1298.5 788,1294.5 789.6,1290.4 791.2,1286.2 792.8,1282 794.4,1277.7 796.1,1273.3 797.7,1268.9 799.3,1264.4 800.9,1259.8 802.5,1255.2 804.1,1250.4 805.7,1245.6 807.4,1240.8 809,1235.8 810.6,1230.8 812.2,1225.7 813.8,1220.5 815.4,1215.2 817,1209.8 818.7,1204.4 820.3,1198.9 821.9,1193.3 823.5,1187.7 825.1,1181.9 826.7,1176.1 828.4,1170.3 830,1164.3 831.6,1158.3 833.2,1152.3 834.8,1146.1 836.4,1140 838,1133.7 839.7,1127.4 841.3,1121.1 842.9,1114.8 844.5,1108.3 846.1,1101.9 847.7,1095.4 849.4,1088.9 851,1082.3 852.6,1075.7 854.2,1069.1 855.8,1062.4 857.4,1055.8 859,1049.1 860.7,1042.4 862.3,1035.6 863.9,1028.9 865.5,1022.2 867.1,1015.4 868.7,1008.7 870.4,1001.9 872,995.2 873.6,988.5 875.2,981.8 876.8,975.1 878.4,968.4 880,961.8 881.7,955.1 883.3,948.6 884.9,942 886.5,935.5 888.1,929 889.7,922.5 891.4,916.1 893,909.8 894.6,903.5 896.2,897.2 897.8,891 899.4,884.8 901,878.8 902.7,872.7 904.3,866.7 905.9,860.8 907.5,855 909.1,849.2 910.7,843.6 912.4,837.9 914,832.4 915.6,826.9 917.2,821.5 918.8,816.2 920.4,810.9 922,805.7 923.7,800.6 925.3,795.6 926.9,790.6 928.5,785.7 930.1,780.9 931.7,776.1 933.4,771.4 935,766.8 936.6,762.2 938.2,757.7 939.8,753.3 941.4,748.9 943,744.6 944.7,740.3 946.3,736.1 947.9,732 949.5,727.9 951.1,723.9 952.7,719.9 954.4,716 956,712.2 957.6,708.4 959.2,704.8 960.8,701.3 962.4,698 964,694.7 965.7,691.7 967.3,688.8 968.9,686 970.5,683.3 972.1,680.8 973.7,678.5 975.4,676.2 977,674.1 978.6,672.1 980.2,670.1 981.8,668.3 983.4,666.6 985,665 986.7,663.5 988.3,662.1 989.9,660.7 991.5,659.4 993.1,658.2 994.7,657.1 996.4,656 998,655 999.6,654 1001.2,653.1 1002.8,652.3 1004.4,651.5 1006,650.7 1007.7,649.9 1009.3,649.2 1010.9,648.4 1012.5,647.7 1014.1,647 1015.7,646.4 1017.4,645.7 1019,645 1020.6,644.4 1022.2,643.7 1023.8,643 1025.4,642.4 1027,641.7 1028.7,641 1030.3,640.3 1031.9,639.6 1033.5,638.8 1035.1,638 1036.7,637.2 1038.4,636.4 1040,635.6 1041.6,634.7 1043.2,633.7 1044.8,632.8 1046.4,631.8 1048,630.7 1049.7,629.6 1051.3,628.4 1052.9,627.2 1054.5,625.9 1056.1,624.6 1057.7,623.2 1059.4,621.7 1061,620.1 1062.6,618.4 1064.2,616.6 1065.8,614.7 1067.4,612.7 1069,610.5 1070.7,608.3 1072.3,605.8 1073.9,603.3 1075.5,600.6 1077.1,597.7 1078.7,594.6 1080.4,591.4 1082,588 1083.6,584.4 1085.2,580.7 1086.8,576.8 1088.4,572.7 1090,568.5 1091.7,564.3 1093.3,560 1094.9,555.7 1096.5,551.3 1098.1,547.1 1099.7,542.8 1101.4,538.5 1103,534.2 1104.6,530 1106.2,525.7 1107.8,521.4 1109.4,517 1111,512.7 1112.7,508.3 1114.3,503.8 1115.9,499.4 1117.5,494.8 1119.1,490.2 1120.7,485.5 1122.4,480.7 1124,475.9 1125.6,471 1127.2,466 1128.8,461.1 1130.4,456.1 1132,451.1 1133.7,446.2 1135.3,441.3 1136.9,436.5 1138.5,431.7 1140.1,427.1 1141.7,422.5 1143.3,418 1145,413.6 1146.6,409.4 1148.2,405.3 1149.8,401.2 1151.4,397.3 1153,393.5 1154.7,389.8 1156.3,386.2 1157.9,382.7 1159.5,379.4 1161.1,376.1 1162.7,372.9 1164.3,369.8 1166,366.8 1167.6,363.8 1169.2,361 1170.8,358.2 1172.4,355.5 1174,352.9 1175.7,350.3 1177.3,347.9 1178.9,345.6 1180.5,343.5 1182.1,341.5 1183.7,339.6 1185.3,337.9 1187,336.4 1188.6,335 1190.2,333.7 1191.8,332.6 1193.4,331.7 1195,330.9 1196.7,330.2 1198.3,329.6 1199.9,329.2 1201.5,328.9 1203.1,328.7 1204.7,328.6 1206.3,328.6 1208,328.8 1209.6,329 1211.2,329.4 1212.8,329.9 1214.4,330.5 1216,331.3 1217.7,332.2 1219.3,333.2 1220.9,334.3 1222.5,335.6 1224.1,337.1 1225.7,338.6 1227.3,340.4 1229,342.2 1230.6,344.3 1232.2,346.5 1233.8,348.8 1235.4,351.3 1237,354 1238.7,356.9 1240.3,360 1241.9,363.3 1243.5,366.8 1245.1,370.5 1246.7,374.5 1248.3,378.8 1250,383.4 1251.6,388.4 1253.2,393.7 1254.8,399.2 1256.4,405 1258,410.7 1259.7,416.6 1261.3,422.6 1262.9,428.6 1264.5,434.7 1266.1,440.9 1267.7,447.2 1269.3,453.6 1271,460.1 1272.6,466.6 1274.2,473.3 1275.8,480 1277.4,486.9 1279,493.8 1280.7,500.9 1282.3,508 1283.9,515.3 1285.5,522.6 1287.1,530.1 1288.7,537.7 1290.3,545.4 1292,553.2 1293.6,561.1 1295.2,569.1 1296.8,577.2 1298.4,585.5 1300,593.9 1301.7,602.4 1303.3,611 1304.9,619.7 1306.5,628.5 1308.1,637.5 1309.7,646.6 1311.3,655.7 1313,665 1314.6,674.4 1316.2,683.9 1317.8,693.5 1319.4,703.2 1321,713 1322.7,722.8 1324.3,732.8 1325.9,742.8 1327.5,752.9 1329.1,763.1 1330.7,773.3 1332.3,783.6 1334,793.9 1335.6,804.2 1337.2,814.6 1338.8,825 1340.4,835.4 1342,845.8 1343.7,856.2 1345.3,866.5 1346.9,876.9 1348.5,887.2 1350.1,897.4 1351.7,907.6 1353.3,917.8 1355,927.9 1356.6,937.9 1358.2,947.8 1359.8,957.6 1361.4,967.4 1363,977.1 1364.7,986.6 1366.3,996.1 1367.9,1005.5 1369.5,1014.7 1371.1,1023.9 1372.7,1032.9 1374.3,1041.8 1376,1050.6 1377.6,1059.3 1379.2,1067.9 1380.8,1076.4 1382.4,1084.8 1384,1093 1385.7,1101.2 1387.3,1109.2 1388.9,1117.1 1390.5,1124.9 1392.1,1132.6 1393.7,1140.2 1395.3,1147.7 1397,1155.1 1398.6,1162.4 1400.2,1169.6 1401.8,1176.7 1403.4,1183.7 1405,1190.7 1406.7,1197.5 1408.3,1204.2 1409.9,1210.9 1411.5,1217.4 1413.1,1223.9 1414.7,1230.3 1416.3,1236.6 1418,1242.8 1419.6,1249 1421.2,1255 1422.8,1261 1424.4,1266.8 1426,1272.5 1427.7,1278 1429.3,1283.4 1430.9,1288.7 1432.5,1293.8 1434.1,1298.8 1435.7,1303.6 1437.3,1308.3 1439,1312.8 1440.6,1317.2 1442.2,1321.5 1443.8,1325.7 1445.4,1329.7 1447,1333.6 1448.7,1337.4 1450.3,1341.1 1451.9,1344.7 1453.5,1348.2 1455.1,1351.6 1456.7,1354.9 1458.3,1358.1 1460,1361.2 1461.6,1364.2 1463.2,1367.2 1464.8,1370 1466.4,1372.9 1468,1375.6 1469.6,1378.2 1471.3,1380.8 1472.9,1383.4 1474.5,1385.9 1476.1,1388.3 1477.7,1390.6 1479.3,1392.9 1481,1395.2 1482.6,1397.4 1484.2,1399.6 1485.8,1401.7 1487.4,1403.8 1489,1405.8 1490.6,1407.8 1492.3,1409.8 1493.9,1411.7 1495.5,1413.6 1497.1,1415.5 1498.7,1417.3 1500.3,1419.1 1502,1420.9 1503.6,1422.6 1505.2,1424.3 1506.8,1426 1508.4,1427.7 1510,1429.3 1511.6,1430.9 1513.3,1432.5 1514.9,1434.1 1516.5,1435.7 1518.1,1437.2 1519.7,1438.7 1521.3,1440.2 1523,1441.6 1524.6,1443 1526.2,1444.4 1527.8,1445.8 1529.4,1447.1 1531,1448.4 1532.6,1449.7 1534.3,1450.9 1535.9,1452.1 1537.5,1453.3 1539.1,1454.4 1540.7,1455.5 1542.3,1456.6 1544,1457.6 1545.6,1458.5 1547.2,1459.5 1548.8,1460.4 1550.4,1461.2 1552,1462.1 1553.6,1462.9 1555.3,1463.6 1556.9,1464.4 1558.5,1465.1 1560.1,1465.8 1561.7,1466.5 1563.3,1467.2 1565,1467.8 1566.6,1468.5 1568.2,1469.1 1569.8,1469.7 1571.4,1470.3 1573,1470.9 1574.6,1471.5 1576.3,1472.1 1577.9,1472.7 1579.5,1473.3 1581.1,1473.9 1582.7,1474.4 1584.3,1475 1586,1475.6 1587.6,1476.2 1589.2,1476.8 1590.8,1477.4 1592.4,1478 1594,1478.6 1595.6,1479.2 1597.3,1479.9 1598.9,1480.5 1600.5,1481.2 1602.1,1481.9 1603.7,1482.6 1605.3,1483.3 1607,1484 1608.6,1484.8 1610.2,1485.5 1611.8,1486.3 1613.4,1487.1 1615,1487.8 1616.6,1488.6 1618.3,1489.4 1619.9,1490.2 1621.5,1491 1623.1,1491.7 1624.7,1492.5 1626.3,1493.3 1628,1494.1 1629.6,1494.9 1631.2,1495.6 1632.8,1496.4 1634.4,1497.1 1636,1497.8 1637.6,1498.6 1639.3,1499.3 1640.9,1499.9 1642.5,1500.6 1644.1,1501.3 1645.7,1501.9 1647.3,1502.5 1649,1503.1 1650.6,1503.7 1652.2,1504.2 1653.8,1504.7 1655.4,1505.2 1657,1505.7 1658.6,1506.2 1660.3,1506.6 1661.9,1507 1663.5,1507.4 1665.1,1507.8 1666.7,1508.2 1668.3,1508.6 1670,1509 1671.6,1509.3 1673.2,1509.7 1674.8,1510 1676.4,1510.3 1678,1510.7 1679.6,1511 1681.3,1511.3 1682.9,1511.6 1684.5,1511.9 1686.1,1512.2 1687.7,1512.6 1689.3,1512.9 1691,1513.2 1692.6,1513.5 1694.2,1513.8 1695.8,1514.2 1697.4,1514.5 1699,1514.8 1700.6,1515.1 1702.3,1515.5 1703.9,1515.8 1705.5,1516.1 1707.1,1516.5 1708.7,1516.8 1710.3,1517.1 1712,1517.5 1713.6,1517.8 1715.2,1518.1 1716.8,1518.5 1718.4,1518.8 1720,1519.2 1721.6,1519.5 1723.3,1519.8 1724.9,1520.2 1726.5,1520.5 1728.1,1520.9 1729.7,1521.2 1731.3,1521.5 1733,1521.9 1734.6,1522.2 1736.2,1522.5 1737.8,1522.9 1739.4,1523.2 1741,1523.6 1742.6,1523.9 1744.3,1524.2 1745.9,1524.6 1747.5,1524.9 1749.1,1525.2 1750.7,1525.6 1752.3,1525.9 1754,1526.2 1755.6,1526.6 1757.2,1526.9 1758.8,1527.2 1760.4,1527.5 1762,1527.8 1763.6,1528.2 1765.3,1528.5 1766.9,1528.8 1768.5,1529.1 1770.1,1529.4 1771.7,1529.7 1773.3,1530 1775,1530.3 1776.6,1530.6 1778.2,1530.9 1779.8,1531.3 1781.4,1531.5 1783,1531.8 1784.6,1532.1 1786.3,1532.4 1787.9,1532.7 1789.5,1533 1791.1,1533.3 1792.7,1533.6 1794.3,1533.9 1795.9,1534.2 1797.6,1534.4 1799.2,1534.7 1800.8,1535 1802.4,1535.3 1804,1535.6 1805.6,1535.8 1807.3,1536.1 1808.9,1536.4 1810.5,1536.6 1812.1,1536.9 1813.7,1537.2 1815.3,1537.4 1816.9,1537.7 1818.6,1538 1820.2,1538.2 1821.8,1538.5 1823.4,1538.7 1825,1539 1826.6,1539.3 1828.3,1539.5 1829.9,1539.8 1831.5,1540 1833.1,1540.3 1834.7,1540.5 1836.3,1540.8 1837.9,1541 1839.6,1541.3 1841.2,1541.5 1842.8,1541.8 1844.4,1542 1846,1542.2 1847.6,1542.5 1849.3,1542.7 1850.9,1543 1852.5,1543.2 1854.1,1543.4 1855.7,1543.7 1857.3,1543.9 1858.9,1544.1 1860.6,1544.4 1862.2,1544.6 1863.8,1544.8 1865.4,1545.1 1867,1545.3 1868.6,1545.5 1870.3,1545.8 1871.9,1546 1873.5,1546.2 1875.1,1546.4 1876.7,1546.7 1878.3,1546.9 1879.9,1547.1 1881.6,1547.3 1883.2,1547.6 1884.8,1547.8 1886.4,1548 1888,1548.2 1889.6,1548.4 1891.3,1548.7 1892.9,1548.9 1894.5,1549.1 1896.1,1549.3 1897.7,1549.5 1899.3,1549.7 1900.9,1550 1902.6,1550.2 1904.2,1550.4 1905.8,1550.6 1907.4,1550.8 1909,1551 1910.6,1551.3 1912.3,1551.5 1913.9,1551.7 1915.5,1551.9 1917.1,1552.1 1918.7,1552.3 1920.3,1552.5 1921.9,1552.7 1923.6,1552.9 1925.2,1553.2 1926.8,1553.4 1928.4,1553.6 1930,1553.8 1931.6,1554 1933.3,1554.2 1934.9,1554.4 1936.5,1554.6 1938.1,1554.8 1939.7,1555 1941.3,1555.2 1942.9,1555.4 1944.6,1555.6 1946.2,1555.8 1947.8,1556 1949.4,1556.2 1951,1556.4 1952.6,1556.6 1954.3,1556.8 1955.9,1557 1957.5,1557.2 1959.1,1557.4 1960.7,1557.6 1962.3,1557.8 1963.9,1558 1965.6,1558.2 1967.2,1558.4 1968.8,1558.6 1970.4,1558.8 1972,1559 1973.6,1559.2 1975.3,1559.3 1976.9,1559.5 1978.5,1559.7 1980.1,1559.9 1981.7,1560.1 1983.3,1560.3 1984.9,1560.5 1986.6,1560.7 1988.2,1560.8 1989.8,1561 1991.4,1561.2 1993,1561.4 1994.6,1561.6 1996.3,1561.8 1997.9,1561.9 1999.5,1562.1 2001.1,1562.3 2002.7,1562.5 2004.3,1562.7 2005.9,1562.8 2007.6,1563 2009.2,1563.2 2010.8,1563.4 2012.4,1563.5 2014,1563.7 2015.6,1563.9 2017.3,1564.1 2018.9,1564.2 2020.5,1564.4 2022.1,1564.6 2023.7,1564.7 2025.3,1564.9 2026.9,1565.1 2028.6,1565.2 2030.2,1565.4 2031.8,1565.6 2033.4,1565.7 2035,1565.9 2036.6,1566.1 2038.3,1566.2 2039.9,1566.4 2041.5,1566.5 2043.1,1566.7 2044.7,1566.8 2046.3,1567 2047.9,1567.2 2049.6,1567.3 2051.2,1567.5 2052.8,1567.6 2054.4,1567.8 2056,1567.9 2057.6,1568.1 2059.3,1568.2 2060.9,1568.4 2062.5,1568.5 2064.1,1568.7 2065.7,1568.8 2067.3,1569 2068.9,1569.1 2070.6,1569.3 2072.2,1569.4 2073.8,1569.5 2075.4,1569.7 2077,1569.8 2078.6,1570 2080.3,1570.1 2081.9,1570.2 2083.5,1570.4 2085.1,1570.5 2086.7,1570.6 2088.3,1570.8 2089.9,1570.9 2091.6,1571 2093.2,1571.2 2094.8,1571.3 2096.4,1571.4 2098,1571.5 2099.6,1571.7 2101.3,1571.8 2102.9,1571.9 2104.5,1572 2106.1,1572.2 2107.7,1572.3 2109.3,1572.4 2110.9,1572.5 2112.6,1572.6 2114.2,1572.8 2115.8,1572.9 2117.4,1573 2119,1573.1 2120.6,1573.2 2122.2,1573.3 2123.9,1573.4 2125.5,1573.5 2127.1,1573.7 2128.7,1573.8 2130.3,1573.9 2131.9,1574 2133.6,1574.1 2135.2,1574.2 2136.8,1574.3 2138.4,1574.4 2140,1574.5 2141.6,1574.6 2143.2,1574.7 2144.9,1574.8 2146.5,1574.9 2148.1,1575 2149.7,1575.1 2151.3,1575.1 2152.9,1575.2 2154.6,1575.3 2156.2,1575.4 2157.8,1575.5 2159.4,1575.6 2161,1575.7 2162.6,1575.8 2164.2,1575.8 2165.9,1575.9 2167.5,1576 2169.1,1576.1 2170.7,1576.2 2172.3,1576.2 2173.9,1576.3 2175.6,1576.4 2177.2,1576.5 2178.8,1576.5 2180.4,1576.6 2182,1576.7 2183.6,1576.7 2185.2,1576.8 2186.9,1576.9 2188.5,1576.9 2190.1,1577 2191.7,1577.1 2193.3,1577.1 2194.9,1577.2 2196.6,1577.2 2198.2,1577.3 2199.8,1577.3 2201.4,1577.4 2203,1577.4 2204.6,1577.5 2206.2,1577.5 2207.9,1577.6 2209.5,1577.6 2211.1,1577.7 2212.7,1577.7 2214.3,1577.8 2215.9,1577.8 2217.6,1577.9 2219.2,1577.9 2220.8,1577.9 2222.4,1578 2224,1578 2225.6,1578 2227.2,1578.1 2228.9,1578.1 2230.5,1578.1 2232.1,1578.2 2233.7,1578.2 2235.3,1578.2 2236.9,1578.2 2238.6,1578.3 2240.2,1578.3 2241.8,1578.3 2243.4,1578.3 2245,1578.3 2246.6,1578.4 2248.2,1578.4 2249.9,1578.4 2251.5,1578.4 2253.1,1578.4 2254.7,1578.4 2256.3,1578.4 2257.9,1578.4 2259.6,1578.4 2261.2,1578.4 2262.8,1578.4 2264.4,1578.4" stroke="#000" stroke-width="6" stroke-linejoin="round"/>
<g><use href="#ms" x="2264.4" y="1578.4"/><use href="#ms" x="2257.9" y="1578.4"/><use href="#ms" x="2251.5" y="1578.4"/><use href="#ms" x="2245" y="1578.3"/><use href="#ms" x="2238.6" y="1578.3"/><use href="#ms" x="2232.1" y="1578.2"/><use href="#ms" x="2225.7" y="1578"/><use href="#ms" x="2219.2" y="1577.9"/><use href="#ms" x="2212.8" y="1577.7"/><use href="#ms" x="2206.3" y="1577.5"/><use href="#ms" x="2199.8" y="1577.3"/><use href="#ms" x="2193.4" y="1577.1"/><use href="#ms" x="2186.9" y="1576.9"/><use href="#ms" x="2180.5" y="1576.6"/><use href="#ms" x="2174" y="1576.3"/><use href="#ms" x="2167.6" y="1576"/><use href="#ms" x="2161.1" y="1575.7"/><use href="#ms" x="2154.6" y="1575.3"/><use href="#ms" x="2148.2" y="1575"/><use href="#ms" x="2141.7" y="1574.6"/><use href="#ms" x="2135.3" y="1574.2"/><use href="#ms" x="2128.8" y="1573.8"/><use href="#ms" x="2122.4" y="1573.3"/><use href="#ms" x="2115.9" y="1572.9"/><use href="#ms" x="2109.5" y="1572.4"/><use href="#ms" x="2103" y="1571.9"/><use href="#ms" x="2096.5" y="1571.4"/><use href="#ms" x="2090.1" y="1570.9"/><use href="#ms" x="2083.6" y="1570.4"/><use href="#ms" x="2077.2" y="1569.8"/><use href="#ms" x="2070.7" y="1569.3"/><use href="#ms" x="2064.3" y="1568.7"/><use href="#ms" x="2057.8" y="1568.1"/><use href="#ms" x="2051.4" y="1567.5"/><use href="#ms" x="2044.9" y="1566.9"/><use href="#ms" x="2038.4" y="1566.2"/><use href="#ms" x="2032" y="1565.6"/><use href="#ms" x="2025.5" y="1564.9"/><use href="#ms" x="2019.1" y="1564.2"/><use href="#ms" x="2012.6" y="1563.6"/><use href="#ms" x="2006.2" y="1562.9"/><use href="#ms" x="1999.7" y="1562.1"/><use href="#ms" x="1993.2" y="1561.4"/><use href="#ms" x="1986.8" y="1560.7"/><use href="#ms" x="1980.3" y="1559.9"/><use href="#ms" x="1973.9" y="1559.2"/><use href="#ms" x="1967.4" y="1558.4"/><use href="#ms" x="1961" y="1557.6"/><use href="#ms" x="1954.5" y="1556.9"/><use href="#ms" x="1948.1" y="1556.1"/><use href="#ms" x="1941.6" y="1555.2"/><use href="#ms" x="1935.1" y="1554.4"/><use href="#ms" x="1928.7" y="1553.6"/><use href="#ms" x="1922.2" y="1552.8"/><use href="#ms" x="1915.8" y="1551.9"/><use href="#ms" x="1909.3" y="1551.1"/><use href="#ms" x="1902.9" y="1550.2"/><use href="#ms" x="1896.4" y="1549.4"/><use href="#ms" x="1890" y="1548.5"/><use href="#ms" x="1883.5" y="1547.6"/><use href="#ms" x="1877" y="1546.7"/><use href="#ms" x="1870.6" y="1545.8"/><use href="#ms" x="1864.1" y="1544.9"/><use href="#ms" x="1857.7" y="1544"/><use href="#ms" x="1851.2" y="1543"/><use href="#ms" x="1844.8" y="1542"/><use href="#ms" x="1838.3" y="1541.1"/><use href="#ms" x="1831.8" y="1540.1"/><use href="#ms" x="1825.4" y="1539.1"/><use href="#ms" x="1818.9" y="1538"/><use href="#ms" x="1812.5" y="1537"/><use href="#ms" x="1806" y="1535.9"/><use href="#ms" x="1799.6" y="1534.8"/><use href="#ms" x="1793.1" y="1533.7"/><use href="#ms" x="1786.7" y="1532.5"/><use href="#ms" x="1780.2" y="1531.3"/><use href="#ms" x="1773.7" y="1530.1"/><use href="#ms" x="1767.3" y="1528.9"/><use href="#ms" x="1760.8" y="1527.6"/><use href="#ms" x="1754.4" y="1526.3"/><use href="#ms" x="1747.9" y="1525"/><use href="#ms" x="1741.5" y="1523.7"/><use href="#ms" x="1735" y="1522.3"/><use href="#ms" x="1728.6" y="1520.9"/><use href="#ms" x="1722.1" y="1519.6"/><use href="#ms" x="1715.6" y="1518.2"/><use href="#ms" x="1709.2" y="1516.9"/><use href="#ms" x="1702.7" y="1515.6"/><use href="#ms" x="1696.3" y="1514.3"/><use href="#ms" x="1689.8" y="1513"/><use href="#ms" x="1683.4" y="1511.7"/><use href="#ms" x="1676.9" y="1510.4"/><use href="#ms" x="1670.4" y="1509.1"/><use href="#ms" x="1664" y="1507.6"/><use href="#ms" x="1657.5" y="1505.9"/><use href="#ms" x="1651.1" y="1503.8"/><use href="#ms" x="1644.6" y="1501.5"/><use href="#ms" x="1638.2" y="1498.8"/><use href="#ms" x="1631.7" y="1495.9"/><use href="#ms" x="1625.3" y="1492.8"/><use href="#ms" x="1618.8" y="1489.7"/><use href="#ms" x="1612.3" y="1486.5"/><use href="#ms" x="1605.9" y="1483.6"/><use href="#ms" x="1599.4" y="1480.8"/><use href="#ms" x="1593" y="1478.2"/><use href="#ms" x="1586.5" y="1475.8"/><use href="#ms" x="1580.1" y="1473.5"/><use href="#ms" x="1573.6" y="1471.1"/><use href="#ms" x="1567.2" y="1468.7"/><use href="#ms" x="1560.7" y="1466.1"/><use href="#ms" x="1554.2" y="1463.2"/><use href="#ms" x="1547.8" y="1459.8"/><use href="#ms" x="1541.3" y="1455.9"/><use href="#ms" x="1534.9" y="1451.4"/><use href="#ms" x="1528.4" y="1446.3"/><use href="#ms" x="1522" y="1440.7"/><use href="#ms" x="1515.5" y="1434.7"/><use href="#ms" x="1509" y="1428.3"/><use href="#ms" x="1502.6" y="1421.6"/><use href="#ms" x="1496.1" y="1414.3"/><use href="#ms" x="1489.7" y="1406.6"/><use href="#ms" x="1483.2" y="1398.3"/><use href="#ms" x="1476.8" y="1389.2"/><use href="#ms" x="1470.3" y="1379.3"/><use href="#ms" x="1463.9" y="1368.4"/><use href="#ms" x="1457.4" y="1356.2"/><use href="#ms" x="1450.9" y="1342.6"/><use href="#ms" x="1444.5" y="1327.4"/><use href="#ms" x="1438" y="1310.2"/><use href="#ms" x="1431.6" y="1290.9"/><use href="#ms" x="1425.1" y="1269.3"/><use href="#ms" x="1418.7" y="1245.5"/><use href="#ms" x="1412.2" y="1220.3"/><use href="#ms" x="1405.8" y="1193.7"/><use href="#ms" x="1399.3" y="1165.7"/><use href="#ms" x="1392.8" y="1136.1"/><use href="#ms" x="1386.4" y="1104.8"/><use href="#ms" x="1379.9" y="1071.8"/><use href="#ms" x="1373.5" y="1037"/><use href="#ms" x="1367" y="1000.4"/><use href="#ms" x="1360.6" y="962.2"/><use href="#ms" x="1354.1" y="922.5"/><use href="#ms" x="1347.6" y="881.7"/><use href="#ms" x="1341.2" y="840.3"/><use href="#ms" x="1334.7" y="798.8"/><use href="#ms" x="1328.3" y="757.8"/><use href="#ms" x="1321.8" y="717.8"/><use href="#ms" x="1315.4" y="679"/><use href="#ms" x="1308.9" y="641.9"/><use href="#ms" x="1302.5" y="606.6"/><use href="#ms" x="1296" y="573.2"/><use href="#ms" x="1289.5" y="541.5"/><use href="#ms" x="1283.1" y="511.7"/><use href="#ms" x="1276.6" y="483.5"/><use href="#ms" x="1270.2" y="456.9"/><use href="#ms" x="1263.7" y="431.8"/><use href="#ms" x="1257.3" y="408"/><use href="#ms" x="1250.8" y="386"/><use href="#ms" x="1244.4" y="368.7"/><use href="#ms" x="1237.9" y="355.5"/><use href="#ms" x="1231.4" y="345.4"/><use href="#ms" x="1225" y="337.9"/><use href="#ms" x="1218.5" y="332.7"/><use href="#ms" x="1212.1" y="329.7"/><use href="#ms" x="1205.6" y="328.6"/><use href="#ms" x="1199.2" y="329.4"/><use href="#ms" x="1192.7" y="332.1"/><use href="#ms" x="1186.2" y="337.1"/><use href="#ms" x="1179.8" y="344.4"/><use href="#ms" x="1173.3" y="354"/><use href="#ms" x="1166.9" y="365.1"/><use href="#ms" x="1160.4" y="377.5"/><use href="#ms" x="1154" y="391.4"/><use href="#ms" x="1147.5" y="407"/><use href="#ms" x="1141.1" y="424.4"/><use href="#ms" x="1134.6" y="443.3"/><use href="#ms" x="1128.1" y="463.1"/><use href="#ms" x="1121.7" y="482.7"/><use href="#ms" x="1115.2" y="501.2"/><use href="#ms" x="1108.8" y="518.8"/><use href="#ms" x="1102.3" y="535.9"/><use href="#ms" x="1095.9" y="553.1"/><use href="#ms" x="1089.4" y="570.2"/><use href="#ms" x="1083" y="585.8"/><use href="#ms" x="1076.5" y="598.8"/><use href="#ms" x="1070" y="609.2"/><use href="#ms" x="1063.6" y="617.3"/><use href="#ms" x="1057.1" y="623.7"/><use href="#ms" x="1050.7" y="628.9"/><use href="#ms" x="1044.2" y="633.1"/><use href="#ms" x="1037.8" y="636.7"/><use href="#ms" x="1031.3" y="639.8"/><use href="#ms" x="1024.8" y="642.6"/><use href="#ms" x="1018.4" y="645.3"/><use href="#ms" x="1011.9" y="648"/><use href="#ms" x="1005.5" y="650.9"/><use href="#ms" x="999" y="654.4"/><use href="#ms" x="992.6" y="658.6"/><use href="#ms" x="986.1" y="664"/><use href="#ms" x="979.7" y="670.8"/><use href="#ms" x="973.2" y="679.2"/><use href="#ms" x="966.7" y="689.7"/><use href="#ms" x="960.3" y="702.4"/><use href="#ms" x="953.8" y="717.3"/><use href="#ms" x="947.4" y="733.3"/><use href="#ms" x="940.9" y="750.3"/><use href="#ms" x="934.5" y="768.2"/><use href="#ms" x="928" y="787.2"/><use href="#ms" x="921.6" y="807.3"/><use href="#ms" x="915.1" y="828.6"/><use href="#ms" x="908.6" y="851"/><use href="#ms" x="902.2" y="874.5"/><use href="#ms" x="895.7" y="899"/><use href="#ms" x="889.3" y="924.4"/><use href="#ms" x="882.8" y="950.4"/><use href="#ms" x="876.4" y="977"/><use href="#ms" x="869.9" y="1003.8"/><use href="#ms" x="863.4" y="1030.8"/><use href="#ms" x="857" y="1057.6"/><use href="#ms" x="850.5" y="1084.1"/><use href="#ms" x="844.1" y="1110.1"/><use href="#ms" x="837.6" y="1135.4"/><use href="#ms" x="831.2" y="1159.9"/><use href="#ms" x="824.7" y="1183.4"/><use href="#ms" x="818.3" y="1205.8"/><use href="#ms" x="811.8" y="1226.9"/><use href="#ms" x="805.3" y="1246.8"/><use href="#ms" x="798.9" y="1265.5"/><use href="#ms" x="792.4" y="1283"/><use href="#ms" x="786" y="1299.5"/><use href="#ms" x="779.5" y="1314.9"/><use href="#ms" x="773.1" y="1329.4"/><use href="#ms" x="766.6" y="1343.1"/><use href="#ms" x="760.2" y="1356.1"/><use href="#ms" x="753.7" y="1368.7"/><use href="#ms" x="747.2" y="1380.8"/><use href="#ms" x="740.8" y="1392.6"/><use href="#ms" x="734.3" y="1404.2"/><use href="#ms" x="727.9" y="1415.6"/><use href="#ms" x="721.4" y="1426.7"/><use href="#ms" x="715" y="1437.3"/><use href="#ms" x="708.5" y="1447.5"/><use href="#ms" x="702" y="1457.2"/><use href="#ms" x="695.6" y="1466.3"/><use href="#ms" x="689.1" y="1474.8"/><use href="#ms" x="682.7" y="1482.8"/><use href="#ms" x="676.2" y="1490.3"/><use href="#ms" x="669.8" y="1497.2"/><use href="#ms" x="663.3" y="1503.6"/><use href="#ms" x="656.9" y="1509.6"/><use href="#ms" x="650.4" y="1515"/><use href="#ms" x="643.9" y="1520.1"/><use href="#ms" x="637.5" y="1524.7"/><use href="#ms" x="631" y="1528.9"/><use href="#ms" x="624.6" y="1532.7"/><use href="#ms" x="618.1" y="1536.1"/><use href="#ms" x="611.7" y="1539.3"/><use href="#ms" x="605.2" y="1542.1"/><use href="#ms" x="598.8" y="1544.5"/><use href="#ms" x="592.3" y="1546.7"/><use href="#ms" x="585.8" y="1548.5"/><use href="#ms" x="579.4" y="1550.1"/><use href="#ms" x="572.9" y="1551.3"/><use href="#ms" x="566.5" y="1552.1"/><use href="#ms" x="560" y="1552.8"/><use href="#ms" x="553.6" y="1553.1"/><use href="#ms" x="547.1" y="1553.3"/><use href="#ms" x="540.6" y="1553.2"/><use href="#ms" x="534.2" y="1553"/><use href="#ms" x="527.7" y="1552.6"/><use href="#ms" x="521.3" y="1552.1"/><use href="#ms" x="514.8" y="1551.5"/><use href="#ms" x="508.4" y="1550.9"/><use href="#ms" x="501.9" y="1550.1"/><use href="#ms" x="495.5" y="1549.4"/><use href="#ms" x="489" y="1548.6"/><use href="#ms" x="482.5" y="1547.8"/><use href="#ms" x="476.1" y="1547"/><use href="#ms" x="469.6" y="1546.1"/><use href="#ms" x="463.2" y="1545.2"/><use href="#ms" x="456.7" y="1544.2"/><use href="#ms" x="450.3" y="1543.2"/><use href="#ms" x="443.8" y="1542.1"/><use href="#ms" x="437.4" y="1541"/><use href="#ms" x="430.9" y="1539.8"/><use href="#ms" x="424.4" y="1538.6"/><use href="#ms" x="418" y="1537.3"/><use href="#ms" x="411.5" y="1535.9"/><use href="#ms" x="405.1" y="1534.4"/><use href="#ms" x="398.6" y="1532.9"/><use href="#ms" x="392.2" y="1531.3"/><use href="#ms" x="385.7" y="1529.6"/><use href="#ms" x="379.2" y="1527.7"/><use href="#ms" x="372.8" y="1525.8"/><use href="#ms" x="366.3" y="1523.8"/><use href="#ms" x="359.9" y="1521.7"/><use href="#ms" x="353.4" y="1519.4"/><use href="#ms" x="347" y="1517.1"/><use href="#ms" x="340.5" y="1514.6"/><use href="#ms" x="334.1" y="1511.9"/><use href="#ms" x="327.6" y="1509.2"/></g>
<polyline points="327.6,1100.2 334.1,1113.5 340.5,1130 347,1143.3 353.4,1160.7 359.9,1178.7 366.3,1193 372.8,1210.3 379.2,1224.6 385.7,1237.4 392.2,1243.7 398.6,1254.3 405.1,1261.6 411.5,1273.9 418,1280.6 424.4,1283.8 430.9,1296.1 437.4,1302.4 443.8,1306.7 450.3,1312.4 456.7,1315.4 463.2,1320.1 469.6,1328.6 476.1,1331.1 482.5,1337 489,1342.3 495.5,1345.8 501.9,1353.1 508.4,1357.4 514.8,1364.2 521.3,1366.4 527.7,1371.1 534.2,1374.2 540.6,1378.9 547.1,1381.2 553.6,1383.5 560,1391.1 566.5,1394.2 572.9,1396.3 579.4,1398.6 585.8,1399.4 592.3,1402.3 598.8,1406.3 605.2,1409 611.7,1417.3 618.1,1419 624.6,1425.2 631,1425.2 637.5,1430.4 643.9,1430.4 650.4,1425 656.9,1425.4 663.3,1428.3 669.8,1424.3 676.2,1426.1 682.7,1421.4 689.1,1418.2 695.6,1420.2 702,1419.6 708.5,1414.7 715,1411.4 721.4,1410.2 727.9,1411.1 734.3,1406.7 740.8,1399.6 747.2,1397.1 753.7,1393 760.2,1389.8 766.6,1391.2 773.1,1384.5 779.5,1383.8 786,1379.9 792.4,1374.9 798.9,1374.3 805.3,1366.3 811.8,1364.2 818.3,1354.9 824.7,1349.5 831.2,1339.9 837.6,1330.8 844.1,1324.6 850.5,1312.7 857,1298.5 863.4,1290.4 869.9,1274.1 876.4,1262.3 882.8,1251.3 889.3,1235 895.7,1215 902.2,1201.6 908.6,1176.7 915.1,1155.6 921.6,1137.2 928,1114 934.5,1094.1 940.9,1073.5 947.4,1054.5 953.8,1038.2 960.3,1016.8 966.7,1001.2 973.2,984.3 979.7,971.7 986.1,963.6 992.6,950.9 999,942.4 1005.5,935.7 1011.9,923.6 1018.4,915.8 1024.8,912.8 1031.3,905 1037.8,894.3 1044.2,886.6 1050.7,882.4 1057.1,875.7 1063.6,862.5 1070,856.8 1076.5,843.4 1083,824.8 1089.4,803.5 1095.9,780.2 1102.3,757.2 1108.8,738.7 1115.2,708.6 1121.7,683.5 1128.1,651.1 1134.6,623.9 1141.1,592.8 1147.5,563.2 1154,536.7 1160.4,515.7 1166.9,488.4 1173.3,466.7 1179.8,446.3 1186.2,427 1192.7,408.3 1199.2,392.7 1205.6,384.3 1212.1,367.5 1218.5,351.4 1225,336.3 1231.4,325.8 1237.9,320.7 1244.4,324.1 1250.8,330.3 1257.3,338 1263.7,343.4 1270.2,355.1 1276.6,372.1 1283.1,391.8 1289.5,415.4 1296,443.1 1302.5,470.4 1308.9,496.6 1315.4,526.4 1321.8,559 1328.3,599.5 1334.7,635.8 1341.2,677.1 1347.6,712.8 1354.1,758.7 1360.6,799.7 1367,842 1373.5,878.7 1379.9,920.1 1386.4,950.1 1392.8,986.9 1399.3,1020.3 1405.8,1052.1 1412.2,1080.5 1418.7,1108.4 1425.1,1138.3 1431.6,1178.2 1438,1196.2 1444.5,1209.7 1450.9,1223.8 1457.4,1245 1463.9,1256.5 1470.3,1271.6 1476.8,1287.7 1483.2,1303.2 1489.7,1318.1 1496.1,1327.3 1502.6,1336.5 1509,1343.4 1515.5,1346.5 1522,1356.4 1528.4,1366.1 1534.9,1373.9 1541.3,1381.2 1547.8,1385.5 1554.2,1393.7 1560.7,1397 1567.2,1399.9 1573.6,1407.5 1580.1,1404.4 1586.5,1415.1 1593,1412 1599.4,1422.3 1605.9,1425.3 1612.3,1426.6 1618.8,1436.4 1625.3,1438 1631.7,1443.5 1638.2,1451.3 1644.6,1446.1 1651.1,1446 1657.5,1453.1 1664,1461.6 1670.4,1457.1 1676.9,1459 1683.4,1472.8 1689.8,1470.9 1696.3,1469 1702.7,1478.3 1709.2,1470 1715.6,1477.3 1722.1,1470.1 1728.6,1475.6 1735,1484 1741.5,1487.5 1747.9,1488.2 1754.4,1479.7 1760.8,1485.2 1767.3,1481.5 1773.7,1479.7 1780.2,1488.8 1786.7,1497.6 1793.1,1499.9 1799.6,1499.3 1806,1506.3 1812.5,1495 1818.9,1495.1 1825.4,1502.9 1831.8,1501.6 1838.3,1502.5 1844.8,1508.6 1851.2,1514.8 1857.7,1514.1 1864.1,1512.3 1870.6,1524.4 1877,1528.8 1883.5,1519.6 1890,1513.4 1896.4,1513.7 1902.9,1531.7 1909.3,1516.1 1915.8,1530.4 1922.2,1528.6 1928.7,1524.3 1935.1,1534.8 1941.6,1520.1 1948.1,1523.3 1954.5,1530.5 1961,1522.6 1967.4,1539.5 1973.9,1528.5 1980.3,1527.4 1986.8,1526.4 1993.2,1538.9 1999.7,1536.2 2006.2,1540.8 2012.6,1542.2 2019.1,1546.3 2025.5,1550.3 2032,1545.8 2038.4,1537.1 2044.9,1543.7 2051.4,1538.8 2057.8,1536.5 2064.3,1546.9 2070.7,1552.8 2077.2,1543.2 2083.6,1546.1 2090.1,1548.7 2096.5,1556.8 2103,1554.4 2109.5,1557.4 2115.9,1561.3 2122.4,1555.1 2128.8,1564.2 2135.3,1567.6 2141.7,1552.3 2148.2,1570.3 2154.6,1567.3 2161.1,1556.6 2167.6,1564.3 2174,1569.1 2180.5,1576.1 2186.9,1566.9 2193.4,1572.1 2199.8,1579.6 2206.3,1579.2 2212.8,1583.1 2219.2,1574.2 2225.7,1578.4 2232.1,1569.6 2238.6,1579.4 2245,1580.1 2251.5,1574 2257.9,1570.5 2264.4,1544.1" stroke="#000" stroke-width="6" stroke-linejoin="round"/>
<g><use href="#mc" x="327.6" y="1100.2"/><use href="#mc" x="334.1" y="1113.5"/><use href="#mc" x="340.5" y="1130"/><use href="#mc" x="347" y="1143.3"/><use href="#mc" x="353.4" y="1160.7"/><use href="#mc" x="359.9" y="1178.7"/><use href="#mc" x="366.3" y="1193"/><use href="#mc" x="372.8" y="1210.3"/><use href="#mc" x="379.2" y="1224.6"/><use href="#mc" x="385.7" y="1237.4"/><use href="#mc" x="392.2" y="1243.7"/><use href="#mc" x="398.6" y="1254.3"/><use href="#mc" x="405.1" y="1261.6"/><use href="#mc" x="411.5" y="1273.9"/><use href="#mc" x="418" y="1280.6"/><use href="#mc" x="424.4" y="1283.8"/><use href="#mc" x="430.9" y="1296.1"/><use href="#mc" x="437.4" y="1302.4"/><use href="#mc" x="443.8" y="1306.7"/><use href="#mc" x="450.3" y="1312.4"/><use href="#mc" x="456.7" y="1315.4"/><use href="#mc" x="463.2" y="1320.1"/><use href="#mc" x="469.6" y="1328.6"/><use href="#mc" x="476.1" y="1331.1"/><use href="#mc" x="482.5" y="1337"/><use href="#mc" x="489" y="1342.3"/><use href="#mc" x="495.5" y="1345.8"/><use href="#mc" x="501.9" y="1353.1"/><use href="#mc" x="508.4" y="1357.4"/><use href="#mc" x="514.8" y="1364.2"/><use href="#mc" x="521.3" y="1366.4"/><use href="#mc" x="527.7" y="1371.1"/><use href="#mc" x="534.2" y="1374.2"/><use href="#mc" x="540.6" y="1378.9"/><use href="#mc" x="547.1" y="1381.2"/><use href="#mc" x="553.6" y="1383.5"/><use href="#mc" x="560" y="1391.1"/><use href="#mc" x="566.5" y="1394.2"/><use href="#mc" x="572.9" y="1396.3"/><use href="#mc" x="579.4" y="1398.6"/><use href="#mc" x="585.8" y="1399.4"/><use href="#mc" x="592.3" y="1402.3"/><use href="#mc" x="598.8" y="1406.3"/><use href="#mc" x="605.2" y="1409"/><use href="#mc" x="611.7" y="1417.3"/><use href="#mc" x="618.1" y="1419"/><use href="#mc" x="624.6" y="1425.2"/><use href="#mc" x="631" y="1425.2"/><use href="#mc" x="637.5" y="1430.4"/><use href="#mc" x="643.9" y="1430.4"/><use href="#mc" x="650.4" y="1425"/><use href="#mc" x="656.9" y="1425.4"/><use href="#mc" x="663.3" y="1428.3"/><use href="#mc" x="669.8" y="1424.3"/><use href="#mc" x="676.2" y="1426.1"/><use href="#mc" x="682.7" y="1421.4"/><use href="#mc" x="689.1" y="1418.2"/><use href="#mc" x="695.6" y="1420.2"/><use href="#mc" x="702" y="1419.6"/><use href="#mc" x="708.5" y="1414.7"/><use href="#mc" x="715" y="1411.4"/><use href="#mc" x="721.4" y="1410.2"/><use href="#mc" x="727.9" y="1411.1"/><use href="#mc" x="734.3" y="1406.7"/><use href="#mc" x="740.8" y="1399.6"/><use href="#mc" x="747.2" y="1397.1"/><use href="#mc" x="753.7" y="1393"/><use href="#mc" x="760.2" y="1389.8"/><use href="#mc" x="766.6" y="1391.2"/><use href="#mc" x="773.1" y="1384.5"/><use href="#mc" x="779.5" y="1383.8"/><use href="#mc" x="786" y="1379.9"/><use href="#mc" x="792.4" y="1374.9"/><use href="#mc" x="798.9" y="1374.3"/><use href="#mc" x="805.3" y="1366.3"/><use href="#mc" x="811.8" y="1364.2"/><use href="#mc" x="818.3" y="1354.9"/><use href="#mc" x="824.7" y="1349.5"/><use href="#mc" x="831.2" y="1339.9"/><use href="#mc" x="837.6" y="1330.8"/><use href="#mc" x="844.1" y="1324.6"/><use href="#mc" x="850.5" y="1312.7"/><use href="#mc" x="857" y="1298.5"/><use href="#mc" x="863.4" y="1290.4"/><use href="#mc" x="869.9" y="1274.1"/><use href="#mc" x="876.4" y="1262.3"/><use href="#mc" x="882.8" y="1251.3"/><use href="#mc" x="889.3" y="1235"/><use href="#mc" x="895.7" y="1215"/><use href="#mc" x="902.2" y="1201.6"/><use href="#mc" x="908.6" y="1176.7"/><use href="#mc" x="915.1" y="1155.6"/><use href="#mc" x="921.6" y="1137.2"/><use href="#mc" x="928" y="1114"/><use href="#mc" x="934.5" y="1094.1"/><use href="#mc" x="940.9" y="1073.5"/><use href="#mc" x="947.4" y="1054.5"/><use href="#mc" x="953.8" y="1038.2"/><use href="#mc" x="960.3" y="1016.8"/><use href="#mc" x="966.7" y="1001.2"/><use href="#mc" x="973.2" y="984.3"/><use href="#mc" x="979.7" y="971.7"/><use href="#mc" x="986.1" y="963.6"/><use href="#mc" x="992.6" y="950.9"/><use href="#mc" x="999" y="942.4"/><use href="#mc" x="1005.5" y="935.7"/><use href="#mc" x="1011.9" y="923.6"/><use href="#mc" x="1018.4" y="915.8"/><use href="#mc" x="1024.8" y="912.8"/><use href="#mc" x="1031.3" y="905"/><use href="#mc" x="1037.8" y="894.3"/><use href="#mc" x="1044.2" y="886.6"/><use href="#mc" x="1050.7" y="882.4"/><use href="#mc" x="1057.1" y="875.7"/><use href="#mc" x="1063.6" y="862.5"/><use href="#mc" x="1070" y="856.8"/><use href="#mc" x="1076.5" y="843.4"/><use href="#mc" x="1083" y="824.8"/><use href="#mc" x="1089.4" y="803.5"/><use href="#mc" x="1095.9" y="780.2"/><use href="#mc" x="1102.3" y="757.2"/><use href="#mc" x="1108.8" y="738.7"/><use href="#mc" x="1115.2" y="708.6"/><use href="#mc" x="1121.7" y="683.5"/><use href="#mc" x="1128.1" y="651.1"/><use href="#mc" x="1134.6" y="623.9"/><use href="#mc" x="1141.1" y="592.8"/><use href="#mc" x="1147.5" y="563.2"/><use href="#mc" x="1154" y="536.7"/><use href="#mc" x="1160.4" y="515.7"/><use href="#mc" x="1166.9" y="488.4"/><use href="#mc" x="1173.3" y="466.7"/><use href="#mc" x="1179.8" y="446.3"/><use href="#mc" x="1186.2" y="427"/><use href="#mc" x="1192.7" y="408.3"/><use href="#mc" x="1199.2" y="392.7"/><use href="#mc" x="1205.6" y="384.3"/><use href="#mc" x="1212.1" y="367.5"/><use href="#mc" x="1218.5" y="351.4"/><use href="#mc" x="1225" y="336.3"/><use href="#mc" x="1231.4" y="325.8"/><use href="#mc" x="1237.9" y="320.7"/><use href="#mc" x="1244.4" y="324.1"/><use href="#mc" x="1250.8" y="330.3"/><use href="#mc" x="1257.3" y="338"/><use href="#mc" x="1263.7" y="343.4"/><use href="#mc" x="1270.2" y="355.1"/><use href="#mc" x="1276.6" y="372.1"/><use href="#mc" x="1283.1" y="391.8"/><use href="#mc" x="1289.5" y="415.4"/><use href="#mc" x="1296" y="443.1"/><use href="#mc" x="1302.5" y="470.4"/><use href="#mc" x="1308.9" y="496.6"/><use href="#mc" x="1315.4" y="526.4"/><use href="#mc" x="1321.8" y="559"/><use href="#mc" x="1328.3" y="599.5"/><use href="#mc" x="1334.7" y="635.8"/><use href="#mc" x="1341.2" y="677.1"/><use href="#mc" x="1347.6" y="712.8"/><use href="#mc" x="1354.1" y="758.7"/><use href="#mc" x="1360.6" y="799.7"/><use href="#mc" x="1367" y="842"/><use href="#mc" x="1373.5" y="878.7"/><use href="#mc" x="1379.9" y="920.1"/><use href="#mc" x="1386.4" y="950.1"/><use href="#mc" x="1392.8" y="986.9"/><use href="#mc" x="1399.3" y="1020.3"/><use href="#mc" x="1405.8" y="1052.1"/><use href="#mc" x="1412.2" y="1080.5"/><use href="#mc" x="1418.7" y="1108.4"/><use href="#mc" x="1425.1" y="1138.3"/><use href="#mc" x="1431.6" y="1178.2"/><use href="#mc" x="1438" y="1196.2"/><use href="#mc" x="1444.5" y="1209.7"/><use href="#mc" x="1450.9" y="1223.8"/><use href="#mc" x="1457.4" y="1245"/><use href="#mc" x="1463.9" y="1256.5"/><use href="#mc" x="1470.3" y="1271.6"/><use href="#mc" x="1476.8" y="1287.7"/><use href="#mc" x="1483.2" y="1303.2"/><use href="#mc" x="1489.7" y="1318.1"/><use href="#mc" x="1496.1" y="1327.3"/><use href="#mc" x="1502.6" y="1336.5"/><use href="#mc" x="1509" y="1343.4"/><use href="#mc" x="1515.5" y="1346.5"/><use href="#mc" x="1522" y="1356.4"/><use href="#mc" x="1528.4" y="1366.1"/><use href="#mc" x="1534.9" y="1373.9"/><use href="#mc" x="1541.3" y="1381.2"/><use href="#mc" x="1547.8" y="1385.5"/><use href="#mc" x="1554.2" y="1393.7"/><use href="#mc" x="1560.7" y="1397"/><use href="#mc" x="1567.2" y="1399.9"/><use href="#mc" x="1573.6" y="1407.5"/><use href="#mc" x="1580.1" y="1404.4"/><use href="#mc" x="1586.5" y="1415.1"/><use href="#mc" x="1593" y="1412"/><use href="#mc" x="1599.4" y="1422.3"/><use href="#mc" x="1605.9" y="1425.3"/><use href="#mc" x="1612.3" y="1426.6"/><use href="#mc" x="1618.8" y="1436.4"/><use href="#mc" x="1625.3" y="1438"/><use href="#mc" x="1631.7" y="1443.5"/><use href="#mc" x="1638.2" y="1451.3"/><use href="#mc" x="1644.6" y="1446.1"/><use href="#mc" x="1651.1" y="1446"/><use href="#mc" x="1657.5" y="1453.1"/><use href="#mc" x="1664" y="1461.6"/><use href="#mc" x="1670.4" y="1457.1"/><use href="#mc" x="1676.9" y="1459"/><use href="#mc" x="1683.4" y="1472.8"/><use href="#mc" x="1689.8" y="1470.9"/><use href="#mc" x="1696.3" y="1469"/><use href="#mc" x="1702.7" y="1478.3"/><use href="#mc" x="1709.2" y="1470"/><use href="#mc" x="1715.6" y="1477.3"/><use href="#mc" x="1722.1" y="1470.1"/><use href="#mc" x="1728.6" y="1475.6"/><use href="#mc" x="1735" y="1484"/><use href="#mc" x="1741.5" y="1487.5"/><use href="#mc" x="1747.9" y="1488.2"/><use href="#mc" x="1754.4" y="1479.7"/><use href="#mc" x="1760.8" y="1485.2"/><use href="#mc" x="1767.3" y="1481.5"/><use href="#mc" x="1773.7" y="1479.7"/><use href="#mc" x="1780.2" y="1488.8"/><use href="#mc" x="1786.7" y="1497.6"/><use href="#mc" x="1793.1" y="1499.9"/><use href="#mc" x="1799.6" y="1499.3"/><use href="#mc" x="1806" y="1506.3"/><use href="#mc" x="1812.5" y="1495"/><use href="#mc" x="1818.9" y="1495.1"/><use href="#mc" x="1825.4" y="1502.9"/><use href="#mc" x="1831.8" y="1501.6"/><use href="#mc" x="1838.3" y="1502.5"/><use href="#mc" x="1844.8" y="1508.6"/><use href="#mc" x="1851.2" y="1514.8"/><use href="#mc" x="1857.7" y="1514.1"/><use href="#mc" x="1864.1" y="1512.3"/><use href="#mc" x="1870.6" y="1524.4"/><use href="#mc" x="1877" y="1528.8"/><use href="#mc" x="1883.5" y="1519.6"/><use href="#mc" x="1890" y="1513.4"/><use href="#mc" x="1896.4" y="1513.7"/><use href="#mc" x="1902.9" y="1531.7"/><use href="#mc" x="1909.3" y="1516.1"/><use href="#mc" x="1915.8" y="1530.4"/><use href="#mc" x="1922.2" y="1528.6"/><use href="#mc" x="1928.7" y="1524.3"/><use href="#mc" x="1935.1" y="1534.8"/><use href="#mc" x="1941.6" y="1520.1"/><use href="#mc" x="1948.1" y="1523.3"/><use href="#mc" x="1954.5" y="1530.5"/><use href="#mc" x="1961" y="1522.6"/><use href="#mc" x="1967.4" y="1539.5"/><use href="#mc" x="1973.9" y="1528.5"/><use href="#mc" x="1980.3" y="1527.4"/><use href="#mc" x="1986.8" y="1526.4"/><use href="#mc" x="1993.2" y="1538.9"/><use href="#mc" x="1999.7" y="1536.2"/><use href="#mc" x="2006.2" y="1540.8"/><use href="#mc" x="2012.6" y="1542.2"/><use href="#mc" x="2019.1" y="1546.3"/><use href="#mc" x="2025.5" y="1550.3"/><use href="#mc" x="2032" y="1545.8"/><use href="#mc" x="2038.4" y="1537.1"/><use href="#mc" x="2044.9" y="1543.7"/><use href="#mc" x="2051.4" y="1538.8"/><use href="#mc" x="2057.8" y="1536.5"/><use href="#mc" x="2064.3" y="1546.9"/><use href="#mc" x="2070.7" y="1552.8"/><use href="#mc" x="2077.2" y="1543.2"/><use href="#mc" x="2083.6" y="1546.1"/><use href="#mc" x="2090.1" y="1548.7"/><use href="#mc" x="2096.5" y="1556.8"/><use href="#mc" x="2103" y="1554.4"/><use href="#mc" x="2109.5" y="1557.4"/><use href="#mc" x="2115.9" y="1561.3"/><use href="#mc" x="2122.4" y="1555.1"/><use href="#mc" x="2128.8" y="1564.2"/><use href="#mc" x="2135.3" y="1567.6"/><use href="#mc" x="2141.7" y="1552.3"/><use href="#mc" x="2148.2" y="1570.3"/><use href="#mc" x="2154.6" y="1567.3"/><use href="#mc" x="2161.1" y="1556.6"/><use href="#mc" x="2167.6" y="1564.3"/><use href="#mc" x="2174" y="1569.1"/><use href="#mc" x="2180.5" y="1576.1"/><use href="#mc" x="2186.9" y="1566.9"/><use href="#mc" x="2193.4" y="1572.1"/><use href="#mc" x="2199.8" y="1579.6"/><use href="#mc" x="2206.3" y="1579.2"/><use href="#mc" x="2212.8" y="1583.1"/><use href="#mc" x="2219.2" y="1574.2"/><use href="#mc" x="2225.7" y="1578.4"/><use href="#mc" x="2232.1" y="1569.6"/><use href="#mc" x="2238.6" y="1579.4"/><use href="#mc" x="2245" y="1580.1"/><use href="#mc" x="2251.5" y="1574"/><use href="#mc" x="2257.9" y="1570.5"/><use href="#mc" x="2264.4" y="1544.1"/></g>
<polyline points="331,1571.5 390,1572.5 420,1574.5 700,1575.5 1500,1577 2264.4,1577.5" stroke="#8c8c8c" stroke-width="7" stroke-dasharray="10 34.59"/>
</g>
<g stroke="#000" fill="none">
<line x1="297" y1="75.6" x2="2266.9" y2="75.6" stroke-width="6.5"/>
<line x1="327.6" y1="1641.2" x2="2264.4" y2="1641.2" stroke-width="6"/>
<line x1="327.6" y1="72.6" x2="327.6" y2="1670.5" stroke-width="5"/>
<line x1="2264.4" y1="72.6" x2="2264.4" y2="1670.5" stroke-width="5"/>
<line x1="297" y1="1578.6" x2="327.6" y2="1578.6" stroke-width="6"/>
<line x1="297" y1="1328.1" x2="327.6" y2="1328.1" stroke-width="6"/>
<line x1="297" y1="1077.6" x2="327.6" y2="1077.6" stroke-width="6"/>
<line x1="297" y1="827.1" x2="327.6" y2="827.1" stroke-width="6"/>
<line x1="297" y1="576.6" x2="327.6" y2="576.6" stroke-width="6"/>
<line x1="297" y1="326.1" x2="327.6" y2="326.1" stroke-width="6"/>
<line x1="311" y1="1453.3" x2="327.6" y2="1453.3" stroke-width="5.5"/>
<line x1="2248.5" y1="1453.3" x2="2264.4" y2="1453.3" stroke-width="5.5"/>
<line x1="311" y1="1202.8" x2="327.6" y2="1202.8" stroke-width="5.5"/>
<line x1="2248.5" y1="1202.8" x2="2264.4" y2="1202.8" stroke-width="5.5"/>
<line x1="311" y1="952.3" x2="327.6" y2="952.3" stroke-width="5.5"/>
<line x1="2248.5" y1="952.3" x2="2264.4" y2="952.3" stroke-width="5.5"/>
<line x1="311" y1="701.8" x2="327.6" y2="701.8" stroke-width="5.5"/>
<line x1="2248.5" y1="701.8" x2="2264.4" y2="701.8" stroke-width="5.5"/>
<line x1="311" y1="451.3" x2="327.6" y2="451.3" stroke-width="5.5"/>
<line x1="2248.5" y1="451.3" x2="2264.4" y2="451.3" stroke-width="5.5"/>
<line x1="311" y1="200.8" x2="327.6" y2="200.8" stroke-width="5.5"/>
<line x1="2248.5" y1="200.8" x2="2264.4" y2="200.8" stroke-width="5.5"/>
<line x1="971.9" y1="1641.2" x2="971.9" y2="1670.5" stroke-width="5"/>
<line x1="1617.2" y1="1641.2" x2="1617.2" y2="1670.5" stroke-width="5"/>
<line x1="648.4" y1="1641.2" x2="648.4" y2="1656" stroke-width="5"/>
<line x1="648.4" y1="75.6" x2="648.4" y2="90.5" stroke-width="5"/>
<line x1="1295.2" y1="1641.2" x2="1295.2" y2="1656" stroke-width="5"/>
<line x1="1295.2" y1="75.6" x2="1295.2" y2="90.5" stroke-width="5"/>
<line x1="1940.6" y1="1641.2" x2="1940.6" y2="1656" stroke-width="5"/>
<line x1="1940.6" y1="75.6" x2="1940.6" y2="90.5" stroke-width="5"/>
</g>
<g font-family="Liberation Sans, Arial, sans-serif" fill="#000">
<text transform="translate(273.2,1594.5) scale(0.928,1)" font-size="70" text-anchor="end">0.0</text>
<text transform="translate(273.2,1344.8) scale(0.928,1)" font-size="70" text-anchor="end">0.2</text>
<text transform="translate(273.2,1095) scale(0.928,1)" font-size="70" text-anchor="end">0.4</text>
<text transform="translate(273.2,845.2) scale(0.928,1)" font-size="70" text-anchor="end">0.6</text>
<text transform="translate(273.2,595.5) scale(0.928,1)" font-size="70" text-anchor="end">0.8</text>
<text transform="translate(273.2,345.8) scale(0.928,1)" font-size="70" text-anchor="end">1.0</text>
<text transform="translate(273.2,96) scale(0.928,1)" font-size="70" text-anchor="end">1.2</text>
<text x="325.7" y="1740.8" font-size="68.5" text-anchor="middle">400</text>
<text x="973" y="1740.8" font-size="68.5" text-anchor="middle">500</text>
<text x="1617.2" y="1740.8" font-size="68.5" text-anchor="middle">600</text>
<text x="2263.2" y="1740.8" font-size="68.5" text-anchor="middle">700</text>
</g>
<text transform="translate(955.1,1887.6) scale(0.973,1)" font-family="Liberation Serif, Times New Roman, serif" font-size="106" fill="#000">Wavelength /nm</text>
<text transform="translate(106.6,1189.7) rotate(-90) scale(0.97,1)" font-family="Liberation Serif, Times New Roman, serif" font-size="106" fill="#000">Absorption /a.u.</text>
<rect x="1406" y="136.6" width="772.4" height="380.6" fill="#fff"/>
<line x1="1404.6" y1="136.6" x2="2179.8" y2="136.6" stroke="#8f8f8f" stroke-width="4"/>
<path d="M1406,138.6V517.2H2178.4V138.6" fill="none" stroke="#222" stroke-width="2.8"/>
<line x1="1410" y1="177.8" x2="1553" y2="177.8" stroke="#000" stroke-width="6"/>
<text x="1567.1" y="198.1" font-family="Liberation Sans, Arial, sans-serif" font-size="60.4" fill="#000">(a) PMMA</text>
<line x1="1410" y1="252.4" x2="1553" y2="252.4" stroke="#000" stroke-width="6"/>
<use href="#mx" x="1482" y="252.4"/>
<text x="1567.1" y="272.7" font-family="Liberation Sans, Arial, sans-serif" font-size="60.4" fill="#000">(b) Eosin Y</text>
<line x1="1410" y1="327.1" x2="1553" y2="327.1" stroke="#000" stroke-width="6"/>
<use href="#ms" x="1482" y="327.1"/>
<text x="1567.1" y="347.4" font-family="Liberation Sans, Arial, sans-serif" font-size="60.4" fill="#000">(c) Eosin Y + PEI</text>
<line x1="1410" y1="401.9" x2="1553" y2="401.9" stroke="#000" stroke-width="6"/>
<circle cx="1482" cy="401.9" r="10.5" fill="#000"/>
<text x="1567.1" y="422.2" font-family="Liberation Sans, Arial, sans-serif" font-size="60.4" fill="#000">(d) Irradiated area</text>
<line x1="1411.6" y1="476.8" x2="1556" y2="476.8" stroke="#8c8c8c" stroke-width="5" stroke-dasharray="10 34.2"/>
<text x="1567.1" y="497.1" font-family="Liberation Sans, Arial, sans-serif" font-size="60.4" fill="#000">(e) non-Irradiated area</text>
</svg>
</body></html>
